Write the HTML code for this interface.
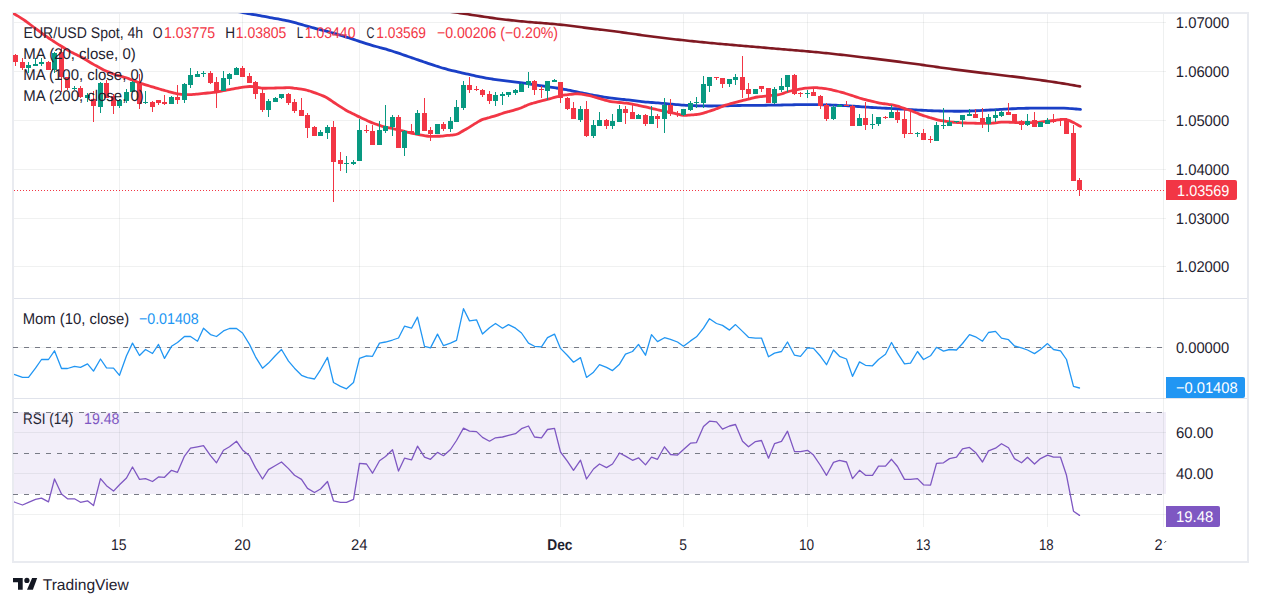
<!DOCTYPE html><html><head><meta charset="utf-8"><style>html,body{margin:0;padding:0;background:#fff;width:1261px;height:606px;overflow:hidden}svg{display:block}text{font-family:"Liberation Sans", sans-serif}</style></head><body>
<svg width="1261" height="606" viewBox="0 0 1261 606">
<defs><clipPath id="cp"><rect x="13" y="13" width="1150" height="285"/></clipPath><clipPath id="cm"><rect x="14" y="299" width="1149" height="99"/></clipPath><clipPath id="cr"><rect x="14" y="399" width="1149" height="128"/></clipPath></defs>
<rect x="0" y="0" width="1261" height="606" fill="#fff"/>
<g shape-rendering="crispEdges">
<rect x="14" y="412" width="1152" height="82" fill="#f2eef9"/>
<rect x="14" y="22" width="1152" height="1" fill="#2a3a3a" fill-opacity="0.07"/>
<rect x="14" y="71" width="1152" height="1" fill="#2a3a3a" fill-opacity="0.07"/>
<rect x="14" y="120" width="1152" height="1" fill="#2a3a3a" fill-opacity="0.07"/>
<rect x="14" y="169" width="1152" height="1" fill="#2a3a3a" fill-opacity="0.07"/>
<rect x="14" y="218" width="1152" height="1" fill="#2a3a3a" fill-opacity="0.07"/>
<rect x="14" y="266" width="1152" height="1" fill="#2a3a3a" fill-opacity="0.07"/>
<rect x="14" y="347" width="1149" height="1" fill="#2a3a3a" fill-opacity="0.07"/>
<rect x="14" y="432" width="1152" height="1" fill="#2a3a3a" fill-opacity="0.07"/>
<rect x="14" y="473" width="1152" height="1" fill="#2a3a3a" fill-opacity="0.07"/>
<rect x="14" y="514" width="1152" height="1" fill="#2a3a3a" fill-opacity="0.07"/>
<rect x="119" y="14" width="1" height="513" fill="#2a3a3a" fill-opacity="0.07"/>
<rect x="242" y="14" width="1" height="513" fill="#2a3a3a" fill-opacity="0.07"/>
<rect x="359" y="14" width="1" height="513" fill="#2a3a3a" fill-opacity="0.07"/>
<rect x="560" y="14" width="1" height="513" fill="#2a3a3a" fill-opacity="0.07"/>
<rect x="683" y="14" width="1" height="513" fill="#2a3a3a" fill-opacity="0.07"/>
<rect x="807" y="14" width="1" height="513" fill="#2a3a3a" fill-opacity="0.07"/>
<rect x="923" y="14" width="1" height="513" fill="#2a3a3a" fill-opacity="0.07"/>
<rect x="1047" y="14" width="1" height="513" fill="#2a3a3a" fill-opacity="0.07"/>
<rect x="14" y="298" width="1233" height="1" fill="#e0e3eb"/>
<rect x="14" y="398" width="1233" height="1" fill="#e0e3eb"/>
<rect x="1163" y="14" width="1" height="513" fill="#2a3a3a" fill-opacity="0.08"/>
<rect x="12" y="12" width="1237" height="2" fill="#e9ebf0"/>
<rect x="12" y="561" width="1237" height="2" fill="#e9ebf0"/>
<rect x="12" y="12" width="2" height="551" fill="#e9ebf0"/>
<rect x="1247" y="12" width="2" height="551" fill="#e9ebf0"/>
<rect x="13" y="347" width="5" height="1" fill="#787b86"/><rect x="24" y="347" width="5" height="1" fill="#787b86"/><rect x="35" y="347" width="5" height="1" fill="#787b86"/><rect x="46" y="347" width="5" height="1" fill="#787b86"/><rect x="57" y="347" width="5" height="1" fill="#787b86"/><rect x="68" y="347" width="5" height="1" fill="#787b86"/><rect x="79" y="347" width="5" height="1" fill="#787b86"/><rect x="90" y="347" width="5" height="1" fill="#787b86"/><rect x="101" y="347" width="5" height="1" fill="#787b86"/><rect x="112" y="347" width="5" height="1" fill="#787b86"/><rect x="123" y="347" width="5" height="1" fill="#787b86"/><rect x="134" y="347" width="5" height="1" fill="#787b86"/><rect x="145" y="347" width="5" height="1" fill="#787b86"/><rect x="156" y="347" width="5" height="1" fill="#787b86"/><rect x="167" y="347" width="5" height="1" fill="#787b86"/><rect x="178" y="347" width="5" height="1" fill="#787b86"/><rect x="189" y="347" width="5" height="1" fill="#787b86"/><rect x="200" y="347" width="5" height="1" fill="#787b86"/><rect x="211" y="347" width="5" height="1" fill="#787b86"/><rect x="222" y="347" width="5" height="1" fill="#787b86"/><rect x="233" y="347" width="5" height="1" fill="#787b86"/><rect x="244" y="347" width="5" height="1" fill="#787b86"/><rect x="255" y="347" width="5" height="1" fill="#787b86"/><rect x="266" y="347" width="5" height="1" fill="#787b86"/><rect x="277" y="347" width="5" height="1" fill="#787b86"/><rect x="288" y="347" width="5" height="1" fill="#787b86"/><rect x="299" y="347" width="5" height="1" fill="#787b86"/><rect x="310" y="347" width="5" height="1" fill="#787b86"/><rect x="321" y="347" width="5" height="1" fill="#787b86"/><rect x="332" y="347" width="5" height="1" fill="#787b86"/><rect x="343" y="347" width="5" height="1" fill="#787b86"/><rect x="354" y="347" width="5" height="1" fill="#787b86"/><rect x="365" y="347" width="5" height="1" fill="#787b86"/><rect x="376" y="347" width="5" height="1" fill="#787b86"/><rect x="387" y="347" width="5" height="1" fill="#787b86"/><rect x="398" y="347" width="5" height="1" fill="#787b86"/><rect x="409" y="347" width="5" height="1" fill="#787b86"/><rect x="420" y="347" width="5" height="1" fill="#787b86"/><rect x="431" y="347" width="5" height="1" fill="#787b86"/><rect x="442" y="347" width="5" height="1" fill="#787b86"/><rect x="453" y="347" width="5" height="1" fill="#787b86"/><rect x="464" y="347" width="5" height="1" fill="#787b86"/><rect x="475" y="347" width="5" height="1" fill="#787b86"/><rect x="486" y="347" width="5" height="1" fill="#787b86"/><rect x="497" y="347" width="5" height="1" fill="#787b86"/><rect x="508" y="347" width="5" height="1" fill="#787b86"/><rect x="519" y="347" width="5" height="1" fill="#787b86"/><rect x="530" y="347" width="5" height="1" fill="#787b86"/><rect x="541" y="347" width="5" height="1" fill="#787b86"/><rect x="552" y="347" width="5" height="1" fill="#787b86"/><rect x="563" y="347" width="5" height="1" fill="#787b86"/><rect x="574" y="347" width="5" height="1" fill="#787b86"/><rect x="585" y="347" width="5" height="1" fill="#787b86"/><rect x="596" y="347" width="5" height="1" fill="#787b86"/><rect x="607" y="347" width="5" height="1" fill="#787b86"/><rect x="618" y="347" width="5" height="1" fill="#787b86"/><rect x="629" y="347" width="5" height="1" fill="#787b86"/><rect x="640" y="347" width="5" height="1" fill="#787b86"/><rect x="651" y="347" width="5" height="1" fill="#787b86"/><rect x="662" y="347" width="5" height="1" fill="#787b86"/><rect x="673" y="347" width="5" height="1" fill="#787b86"/><rect x="684" y="347" width="5" height="1" fill="#787b86"/><rect x="695" y="347" width="5" height="1" fill="#787b86"/><rect x="706" y="347" width="5" height="1" fill="#787b86"/><rect x="717" y="347" width="5" height="1" fill="#787b86"/><rect x="728" y="347" width="5" height="1" fill="#787b86"/><rect x="739" y="347" width="5" height="1" fill="#787b86"/><rect x="750" y="347" width="5" height="1" fill="#787b86"/><rect x="761" y="347" width="5" height="1" fill="#787b86"/><rect x="772" y="347" width="5" height="1" fill="#787b86"/><rect x="783" y="347" width="5" height="1" fill="#787b86"/><rect x="794" y="347" width="5" height="1" fill="#787b86"/><rect x="805" y="347" width="5" height="1" fill="#787b86"/><rect x="816" y="347" width="5" height="1" fill="#787b86"/><rect x="827" y="347" width="5" height="1" fill="#787b86"/><rect x="838" y="347" width="5" height="1" fill="#787b86"/><rect x="849" y="347" width="5" height="1" fill="#787b86"/><rect x="860" y="347" width="5" height="1" fill="#787b86"/><rect x="871" y="347" width="5" height="1" fill="#787b86"/><rect x="882" y="347" width="5" height="1" fill="#787b86"/><rect x="893" y="347" width="5" height="1" fill="#787b86"/><rect x="904" y="347" width="5" height="1" fill="#787b86"/><rect x="915" y="347" width="5" height="1" fill="#787b86"/><rect x="926" y="347" width="5" height="1" fill="#787b86"/><rect x="937" y="347" width="5" height="1" fill="#787b86"/><rect x="948" y="347" width="5" height="1" fill="#787b86"/><rect x="959" y="347" width="5" height="1" fill="#787b86"/><rect x="970" y="347" width="5" height="1" fill="#787b86"/><rect x="981" y="347" width="5" height="1" fill="#787b86"/><rect x="992" y="347" width="5" height="1" fill="#787b86"/><rect x="1003" y="347" width="5" height="1" fill="#787b86"/><rect x="1014" y="347" width="5" height="1" fill="#787b86"/><rect x="1025" y="347" width="5" height="1" fill="#787b86"/><rect x="1036" y="347" width="5" height="1" fill="#787b86"/><rect x="1047" y="347" width="5" height="1" fill="#787b86"/><rect x="1058" y="347" width="5" height="1" fill="#787b86"/><rect x="1069" y="347" width="5" height="1" fill="#787b86"/><rect x="1080" y="347" width="5" height="1" fill="#787b86"/><rect x="1091" y="347" width="5" height="1" fill="#787b86"/><rect x="1102" y="347" width="5" height="1" fill="#787b86"/><rect x="1113" y="347" width="5" height="1" fill="#787b86"/><rect x="1124" y="347" width="5" height="1" fill="#787b86"/><rect x="1135" y="347" width="5" height="1" fill="#787b86"/><rect x="1146" y="347" width="5" height="1" fill="#787b86"/><rect x="1157" y="347" width="5" height="1" fill="#787b86"/>
<rect x="13" y="412" width="5" height="1" fill="#787b86"/><rect x="24" y="412" width="5" height="1" fill="#787b86"/><rect x="35" y="412" width="5" height="1" fill="#787b86"/><rect x="46" y="412" width="5" height="1" fill="#787b86"/><rect x="57" y="412" width="5" height="1" fill="#787b86"/><rect x="68" y="412" width="5" height="1" fill="#787b86"/><rect x="79" y="412" width="5" height="1" fill="#787b86"/><rect x="90" y="412" width="5" height="1" fill="#787b86"/><rect x="101" y="412" width="5" height="1" fill="#787b86"/><rect x="112" y="412" width="5" height="1" fill="#787b86"/><rect x="123" y="412" width="5" height="1" fill="#787b86"/><rect x="134" y="412" width="5" height="1" fill="#787b86"/><rect x="145" y="412" width="5" height="1" fill="#787b86"/><rect x="156" y="412" width="5" height="1" fill="#787b86"/><rect x="167" y="412" width="5" height="1" fill="#787b86"/><rect x="178" y="412" width="5" height="1" fill="#787b86"/><rect x="189" y="412" width="5" height="1" fill="#787b86"/><rect x="200" y="412" width="5" height="1" fill="#787b86"/><rect x="211" y="412" width="5" height="1" fill="#787b86"/><rect x="222" y="412" width="5" height="1" fill="#787b86"/><rect x="233" y="412" width="5" height="1" fill="#787b86"/><rect x="244" y="412" width="5" height="1" fill="#787b86"/><rect x="255" y="412" width="5" height="1" fill="#787b86"/><rect x="266" y="412" width="5" height="1" fill="#787b86"/><rect x="277" y="412" width="5" height="1" fill="#787b86"/><rect x="288" y="412" width="5" height="1" fill="#787b86"/><rect x="299" y="412" width="5" height="1" fill="#787b86"/><rect x="310" y="412" width="5" height="1" fill="#787b86"/><rect x="321" y="412" width="5" height="1" fill="#787b86"/><rect x="332" y="412" width="5" height="1" fill="#787b86"/><rect x="343" y="412" width="5" height="1" fill="#787b86"/><rect x="354" y="412" width="5" height="1" fill="#787b86"/><rect x="365" y="412" width="5" height="1" fill="#787b86"/><rect x="376" y="412" width="5" height="1" fill="#787b86"/><rect x="387" y="412" width="5" height="1" fill="#787b86"/><rect x="398" y="412" width="5" height="1" fill="#787b86"/><rect x="409" y="412" width="5" height="1" fill="#787b86"/><rect x="420" y="412" width="5" height="1" fill="#787b86"/><rect x="431" y="412" width="5" height="1" fill="#787b86"/><rect x="442" y="412" width="5" height="1" fill="#787b86"/><rect x="453" y="412" width="5" height="1" fill="#787b86"/><rect x="464" y="412" width="5" height="1" fill="#787b86"/><rect x="475" y="412" width="5" height="1" fill="#787b86"/><rect x="486" y="412" width="5" height="1" fill="#787b86"/><rect x="497" y="412" width="5" height="1" fill="#787b86"/><rect x="508" y="412" width="5" height="1" fill="#787b86"/><rect x="519" y="412" width="5" height="1" fill="#787b86"/><rect x="530" y="412" width="5" height="1" fill="#787b86"/><rect x="541" y="412" width="5" height="1" fill="#787b86"/><rect x="552" y="412" width="5" height="1" fill="#787b86"/><rect x="563" y="412" width="5" height="1" fill="#787b86"/><rect x="574" y="412" width="5" height="1" fill="#787b86"/><rect x="585" y="412" width="5" height="1" fill="#787b86"/><rect x="596" y="412" width="5" height="1" fill="#787b86"/><rect x="607" y="412" width="5" height="1" fill="#787b86"/><rect x="618" y="412" width="5" height="1" fill="#787b86"/><rect x="629" y="412" width="5" height="1" fill="#787b86"/><rect x="640" y="412" width="5" height="1" fill="#787b86"/><rect x="651" y="412" width="5" height="1" fill="#787b86"/><rect x="662" y="412" width="5" height="1" fill="#787b86"/><rect x="673" y="412" width="5" height="1" fill="#787b86"/><rect x="684" y="412" width="5" height="1" fill="#787b86"/><rect x="695" y="412" width="5" height="1" fill="#787b86"/><rect x="706" y="412" width="5" height="1" fill="#787b86"/><rect x="717" y="412" width="5" height="1" fill="#787b86"/><rect x="728" y="412" width="5" height="1" fill="#787b86"/><rect x="739" y="412" width="5" height="1" fill="#787b86"/><rect x="750" y="412" width="5" height="1" fill="#787b86"/><rect x="761" y="412" width="5" height="1" fill="#787b86"/><rect x="772" y="412" width="5" height="1" fill="#787b86"/><rect x="783" y="412" width="5" height="1" fill="#787b86"/><rect x="794" y="412" width="5" height="1" fill="#787b86"/><rect x="805" y="412" width="5" height="1" fill="#787b86"/><rect x="816" y="412" width="5" height="1" fill="#787b86"/><rect x="827" y="412" width="5" height="1" fill="#787b86"/><rect x="838" y="412" width="5" height="1" fill="#787b86"/><rect x="849" y="412" width="5" height="1" fill="#787b86"/><rect x="860" y="412" width="5" height="1" fill="#787b86"/><rect x="871" y="412" width="5" height="1" fill="#787b86"/><rect x="882" y="412" width="5" height="1" fill="#787b86"/><rect x="893" y="412" width="5" height="1" fill="#787b86"/><rect x="904" y="412" width="5" height="1" fill="#787b86"/><rect x="915" y="412" width="5" height="1" fill="#787b86"/><rect x="926" y="412" width="5" height="1" fill="#787b86"/><rect x="937" y="412" width="5" height="1" fill="#787b86"/><rect x="948" y="412" width="5" height="1" fill="#787b86"/><rect x="959" y="412" width="5" height="1" fill="#787b86"/><rect x="970" y="412" width="5" height="1" fill="#787b86"/><rect x="981" y="412" width="5" height="1" fill="#787b86"/><rect x="992" y="412" width="5" height="1" fill="#787b86"/><rect x="1003" y="412" width="5" height="1" fill="#787b86"/><rect x="1014" y="412" width="5" height="1" fill="#787b86"/><rect x="1025" y="412" width="5" height="1" fill="#787b86"/><rect x="1036" y="412" width="5" height="1" fill="#787b86"/><rect x="1047" y="412" width="5" height="1" fill="#787b86"/><rect x="1058" y="412" width="5" height="1" fill="#787b86"/><rect x="1069" y="412" width="5" height="1" fill="#787b86"/><rect x="1080" y="412" width="5" height="1" fill="#787b86"/><rect x="1091" y="412" width="5" height="1" fill="#787b86"/><rect x="1102" y="412" width="5" height="1" fill="#787b86"/><rect x="1113" y="412" width="5" height="1" fill="#787b86"/><rect x="1124" y="412" width="5" height="1" fill="#787b86"/><rect x="1135" y="412" width="5" height="1" fill="#787b86"/><rect x="1146" y="412" width="5" height="1" fill="#787b86"/><rect x="1157" y="412" width="5" height="1" fill="#787b86"/>
<rect x="13" y="453" width="5" height="1" fill="#787b86"/><rect x="24" y="453" width="5" height="1" fill="#787b86"/><rect x="35" y="453" width="5" height="1" fill="#787b86"/><rect x="46" y="453" width="5" height="1" fill="#787b86"/><rect x="57" y="453" width="5" height="1" fill="#787b86"/><rect x="68" y="453" width="5" height="1" fill="#787b86"/><rect x="79" y="453" width="5" height="1" fill="#787b86"/><rect x="90" y="453" width="5" height="1" fill="#787b86"/><rect x="101" y="453" width="5" height="1" fill="#787b86"/><rect x="112" y="453" width="5" height="1" fill="#787b86"/><rect x="123" y="453" width="5" height="1" fill="#787b86"/><rect x="134" y="453" width="5" height="1" fill="#787b86"/><rect x="145" y="453" width="5" height="1" fill="#787b86"/><rect x="156" y="453" width="5" height="1" fill="#787b86"/><rect x="167" y="453" width="5" height="1" fill="#787b86"/><rect x="178" y="453" width="5" height="1" fill="#787b86"/><rect x="189" y="453" width="5" height="1" fill="#787b86"/><rect x="200" y="453" width="5" height="1" fill="#787b86"/><rect x="211" y="453" width="5" height="1" fill="#787b86"/><rect x="222" y="453" width="5" height="1" fill="#787b86"/><rect x="233" y="453" width="5" height="1" fill="#787b86"/><rect x="244" y="453" width="5" height="1" fill="#787b86"/><rect x="255" y="453" width="5" height="1" fill="#787b86"/><rect x="266" y="453" width="5" height="1" fill="#787b86"/><rect x="277" y="453" width="5" height="1" fill="#787b86"/><rect x="288" y="453" width="5" height="1" fill="#787b86"/><rect x="299" y="453" width="5" height="1" fill="#787b86"/><rect x="310" y="453" width="5" height="1" fill="#787b86"/><rect x="321" y="453" width="5" height="1" fill="#787b86"/><rect x="332" y="453" width="5" height="1" fill="#787b86"/><rect x="343" y="453" width="5" height="1" fill="#787b86"/><rect x="354" y="453" width="5" height="1" fill="#787b86"/><rect x="365" y="453" width="5" height="1" fill="#787b86"/><rect x="376" y="453" width="5" height="1" fill="#787b86"/><rect x="387" y="453" width="5" height="1" fill="#787b86"/><rect x="398" y="453" width="5" height="1" fill="#787b86"/><rect x="409" y="453" width="5" height="1" fill="#787b86"/><rect x="420" y="453" width="5" height="1" fill="#787b86"/><rect x="431" y="453" width="5" height="1" fill="#787b86"/><rect x="442" y="453" width="5" height="1" fill="#787b86"/><rect x="453" y="453" width="5" height="1" fill="#787b86"/><rect x="464" y="453" width="5" height="1" fill="#787b86"/><rect x="475" y="453" width="5" height="1" fill="#787b86"/><rect x="486" y="453" width="5" height="1" fill="#787b86"/><rect x="497" y="453" width="5" height="1" fill="#787b86"/><rect x="508" y="453" width="5" height="1" fill="#787b86"/><rect x="519" y="453" width="5" height="1" fill="#787b86"/><rect x="530" y="453" width="5" height="1" fill="#787b86"/><rect x="541" y="453" width="5" height="1" fill="#787b86"/><rect x="552" y="453" width="5" height="1" fill="#787b86"/><rect x="563" y="453" width="5" height="1" fill="#787b86"/><rect x="574" y="453" width="5" height="1" fill="#787b86"/><rect x="585" y="453" width="5" height="1" fill="#787b86"/><rect x="596" y="453" width="5" height="1" fill="#787b86"/><rect x="607" y="453" width="5" height="1" fill="#787b86"/><rect x="618" y="453" width="5" height="1" fill="#787b86"/><rect x="629" y="453" width="5" height="1" fill="#787b86"/><rect x="640" y="453" width="5" height="1" fill="#787b86"/><rect x="651" y="453" width="5" height="1" fill="#787b86"/><rect x="662" y="453" width="5" height="1" fill="#787b86"/><rect x="673" y="453" width="5" height="1" fill="#787b86"/><rect x="684" y="453" width="5" height="1" fill="#787b86"/><rect x="695" y="453" width="5" height="1" fill="#787b86"/><rect x="706" y="453" width="5" height="1" fill="#787b86"/><rect x="717" y="453" width="5" height="1" fill="#787b86"/><rect x="728" y="453" width="5" height="1" fill="#787b86"/><rect x="739" y="453" width="5" height="1" fill="#787b86"/><rect x="750" y="453" width="5" height="1" fill="#787b86"/><rect x="761" y="453" width="5" height="1" fill="#787b86"/><rect x="772" y="453" width="5" height="1" fill="#787b86"/><rect x="783" y="453" width="5" height="1" fill="#787b86"/><rect x="794" y="453" width="5" height="1" fill="#787b86"/><rect x="805" y="453" width="5" height="1" fill="#787b86"/><rect x="816" y="453" width="5" height="1" fill="#787b86"/><rect x="827" y="453" width="5" height="1" fill="#787b86"/><rect x="838" y="453" width="5" height="1" fill="#787b86"/><rect x="849" y="453" width="5" height="1" fill="#787b86"/><rect x="860" y="453" width="5" height="1" fill="#787b86"/><rect x="871" y="453" width="5" height="1" fill="#787b86"/><rect x="882" y="453" width="5" height="1" fill="#787b86"/><rect x="893" y="453" width="5" height="1" fill="#787b86"/><rect x="904" y="453" width="5" height="1" fill="#787b86"/><rect x="915" y="453" width="5" height="1" fill="#787b86"/><rect x="926" y="453" width="5" height="1" fill="#787b86"/><rect x="937" y="453" width="5" height="1" fill="#787b86"/><rect x="948" y="453" width="5" height="1" fill="#787b86"/><rect x="959" y="453" width="5" height="1" fill="#787b86"/><rect x="970" y="453" width="5" height="1" fill="#787b86"/><rect x="981" y="453" width="5" height="1" fill="#787b86"/><rect x="992" y="453" width="5" height="1" fill="#787b86"/><rect x="1003" y="453" width="5" height="1" fill="#787b86"/><rect x="1014" y="453" width="5" height="1" fill="#787b86"/><rect x="1025" y="453" width="5" height="1" fill="#787b86"/><rect x="1036" y="453" width="5" height="1" fill="#787b86"/><rect x="1047" y="453" width="5" height="1" fill="#787b86"/><rect x="1058" y="453" width="5" height="1" fill="#787b86"/><rect x="1069" y="453" width="5" height="1" fill="#787b86"/><rect x="1080" y="453" width="5" height="1" fill="#787b86"/><rect x="1091" y="453" width="5" height="1" fill="#787b86"/><rect x="1102" y="453" width="5" height="1" fill="#787b86"/><rect x="1113" y="453" width="5" height="1" fill="#787b86"/><rect x="1124" y="453" width="5" height="1" fill="#787b86"/><rect x="1135" y="453" width="5" height="1" fill="#787b86"/><rect x="1146" y="453" width="5" height="1" fill="#787b86"/><rect x="1157" y="453" width="5" height="1" fill="#787b86"/>
<rect x="13" y="494" width="5" height="1" fill="#787b86"/><rect x="24" y="494" width="5" height="1" fill="#787b86"/><rect x="35" y="494" width="5" height="1" fill="#787b86"/><rect x="46" y="494" width="5" height="1" fill="#787b86"/><rect x="57" y="494" width="5" height="1" fill="#787b86"/><rect x="68" y="494" width="5" height="1" fill="#787b86"/><rect x="79" y="494" width="5" height="1" fill="#787b86"/><rect x="90" y="494" width="5" height="1" fill="#787b86"/><rect x="101" y="494" width="5" height="1" fill="#787b86"/><rect x="112" y="494" width="5" height="1" fill="#787b86"/><rect x="123" y="494" width="5" height="1" fill="#787b86"/><rect x="134" y="494" width="5" height="1" fill="#787b86"/><rect x="145" y="494" width="5" height="1" fill="#787b86"/><rect x="156" y="494" width="5" height="1" fill="#787b86"/><rect x="167" y="494" width="5" height="1" fill="#787b86"/><rect x="178" y="494" width="5" height="1" fill="#787b86"/><rect x="189" y="494" width="5" height="1" fill="#787b86"/><rect x="200" y="494" width="5" height="1" fill="#787b86"/><rect x="211" y="494" width="5" height="1" fill="#787b86"/><rect x="222" y="494" width="5" height="1" fill="#787b86"/><rect x="233" y="494" width="5" height="1" fill="#787b86"/><rect x="244" y="494" width="5" height="1" fill="#787b86"/><rect x="255" y="494" width="5" height="1" fill="#787b86"/><rect x="266" y="494" width="5" height="1" fill="#787b86"/><rect x="277" y="494" width="5" height="1" fill="#787b86"/><rect x="288" y="494" width="5" height="1" fill="#787b86"/><rect x="299" y="494" width="5" height="1" fill="#787b86"/><rect x="310" y="494" width="5" height="1" fill="#787b86"/><rect x="321" y="494" width="5" height="1" fill="#787b86"/><rect x="332" y="494" width="5" height="1" fill="#787b86"/><rect x="343" y="494" width="5" height="1" fill="#787b86"/><rect x="354" y="494" width="5" height="1" fill="#787b86"/><rect x="365" y="494" width="5" height="1" fill="#787b86"/><rect x="376" y="494" width="5" height="1" fill="#787b86"/><rect x="387" y="494" width="5" height="1" fill="#787b86"/><rect x="398" y="494" width="5" height="1" fill="#787b86"/><rect x="409" y="494" width="5" height="1" fill="#787b86"/><rect x="420" y="494" width="5" height="1" fill="#787b86"/><rect x="431" y="494" width="5" height="1" fill="#787b86"/><rect x="442" y="494" width="5" height="1" fill="#787b86"/><rect x="453" y="494" width="5" height="1" fill="#787b86"/><rect x="464" y="494" width="5" height="1" fill="#787b86"/><rect x="475" y="494" width="5" height="1" fill="#787b86"/><rect x="486" y="494" width="5" height="1" fill="#787b86"/><rect x="497" y="494" width="5" height="1" fill="#787b86"/><rect x="508" y="494" width="5" height="1" fill="#787b86"/><rect x="519" y="494" width="5" height="1" fill="#787b86"/><rect x="530" y="494" width="5" height="1" fill="#787b86"/><rect x="541" y="494" width="5" height="1" fill="#787b86"/><rect x="552" y="494" width="5" height="1" fill="#787b86"/><rect x="563" y="494" width="5" height="1" fill="#787b86"/><rect x="574" y="494" width="5" height="1" fill="#787b86"/><rect x="585" y="494" width="5" height="1" fill="#787b86"/><rect x="596" y="494" width="5" height="1" fill="#787b86"/><rect x="607" y="494" width="5" height="1" fill="#787b86"/><rect x="618" y="494" width="5" height="1" fill="#787b86"/><rect x="629" y="494" width="5" height="1" fill="#787b86"/><rect x="640" y="494" width="5" height="1" fill="#787b86"/><rect x="651" y="494" width="5" height="1" fill="#787b86"/><rect x="662" y="494" width="5" height="1" fill="#787b86"/><rect x="673" y="494" width="5" height="1" fill="#787b86"/><rect x="684" y="494" width="5" height="1" fill="#787b86"/><rect x="695" y="494" width="5" height="1" fill="#787b86"/><rect x="706" y="494" width="5" height="1" fill="#787b86"/><rect x="717" y="494" width="5" height="1" fill="#787b86"/><rect x="728" y="494" width="5" height="1" fill="#787b86"/><rect x="739" y="494" width="5" height="1" fill="#787b86"/><rect x="750" y="494" width="5" height="1" fill="#787b86"/><rect x="761" y="494" width="5" height="1" fill="#787b86"/><rect x="772" y="494" width="5" height="1" fill="#787b86"/><rect x="783" y="494" width="5" height="1" fill="#787b86"/><rect x="794" y="494" width="5" height="1" fill="#787b86"/><rect x="805" y="494" width="5" height="1" fill="#787b86"/><rect x="816" y="494" width="5" height="1" fill="#787b86"/><rect x="827" y="494" width="5" height="1" fill="#787b86"/><rect x="838" y="494" width="5" height="1" fill="#787b86"/><rect x="849" y="494" width="5" height="1" fill="#787b86"/><rect x="860" y="494" width="5" height="1" fill="#787b86"/><rect x="871" y="494" width="5" height="1" fill="#787b86"/><rect x="882" y="494" width="5" height="1" fill="#787b86"/><rect x="893" y="494" width="5" height="1" fill="#787b86"/><rect x="904" y="494" width="5" height="1" fill="#787b86"/><rect x="915" y="494" width="5" height="1" fill="#787b86"/><rect x="926" y="494" width="5" height="1" fill="#787b86"/><rect x="937" y="494" width="5" height="1" fill="#787b86"/><rect x="948" y="494" width="5" height="1" fill="#787b86"/><rect x="959" y="494" width="5" height="1" fill="#787b86"/><rect x="970" y="494" width="5" height="1" fill="#787b86"/><rect x="981" y="494" width="5" height="1" fill="#787b86"/><rect x="992" y="494" width="5" height="1" fill="#787b86"/><rect x="1003" y="494" width="5" height="1" fill="#787b86"/><rect x="1014" y="494" width="5" height="1" fill="#787b86"/><rect x="1025" y="494" width="5" height="1" fill="#787b86"/><rect x="1036" y="494" width="5" height="1" fill="#787b86"/><rect x="1047" y="494" width="5" height="1" fill="#787b86"/><rect x="1058" y="494" width="5" height="1" fill="#787b86"/><rect x="1069" y="494" width="5" height="1" fill="#787b86"/><rect x="1080" y="494" width="5" height="1" fill="#787b86"/><rect x="1091" y="494" width="5" height="1" fill="#787b86"/><rect x="1102" y="494" width="5" height="1" fill="#787b86"/><rect x="1113" y="494" width="5" height="1" fill="#787b86"/><rect x="1124" y="494" width="5" height="1" fill="#787b86"/><rect x="1135" y="494" width="5" height="1" fill="#787b86"/><rect x="1146" y="494" width="5" height="1" fill="#787b86"/><rect x="1157" y="494" width="5" height="1" fill="#787b86"/>
</g>
<g clip-path="url(#cp)">
<path d="M420.00,7.50 C420.67,7.59 422.67,7.87 424.00,8.05 C425.33,8.23 426.67,8.42 428.00,8.60 C429.33,8.78 430.67,8.97 432.00,9.15 C433.33,9.33 434.67,9.52 436.00,9.70 C437.33,9.89 438.67,10.07 440.00,10.25 C441.33,10.44 442.67,10.62 444.00,10.81 C445.33,11.00 446.67,11.18 448.00,11.37 C449.33,11.56 450.67,11.75 452.00,11.94 C453.33,12.13 454.67,12.32 456.00,12.51 C457.33,12.71 458.67,12.90 460.00,13.10 C461.33,13.30 462.67,13.50 464.00,13.70 C465.33,13.90 466.67,14.10 468.00,14.30 C469.33,14.51 470.67,14.71 472.00,14.92 C473.33,15.12 474.67,15.33 476.00,15.53 C477.33,15.74 478.67,15.94 480.00,16.14 C481.33,16.35 482.67,16.55 484.00,16.74 C485.33,16.94 486.67,17.14 488.00,17.33 C489.33,17.52 490.67,17.71 492.00,17.89 C493.33,18.08 494.67,18.26 496.00,18.43 C497.33,18.61 498.67,18.78 500.00,18.95 C501.33,19.11 502.67,19.28 504.00,19.44 C505.33,19.60 506.67,19.75 508.00,19.91 C509.33,20.06 510.67,20.21 512.00,20.36 C513.33,20.50 514.67,20.65 516.00,20.79 C517.33,20.93 518.67,21.06 520.00,21.19 C521.33,21.33 522.67,21.45 524.00,21.58 C525.33,21.70 526.67,21.82 528.00,21.94 C529.33,22.06 530.67,22.17 532.00,22.28 C533.33,22.39 534.67,22.49 536.00,22.60 C537.33,22.70 538.67,22.81 540.00,22.91 C541.33,23.01 542.67,23.11 544.00,23.22 C545.33,23.32 546.67,23.43 548.00,23.54 C549.33,23.65 550.67,23.76 552.00,23.87 C553.33,23.99 554.67,24.11 556.00,24.24 C557.33,24.36 558.67,24.50 560.00,24.64 C561.33,24.78 562.67,24.92 564.00,25.07 C565.33,25.22 566.67,25.38 568.00,25.54 C569.33,25.70 570.67,25.87 572.00,26.04 C573.33,26.20 574.67,26.38 576.00,26.55 C577.33,26.72 578.67,26.90 580.00,27.07 C581.33,27.24 582.67,27.42 584.00,27.59 C585.33,27.76 586.67,27.94 588.00,28.11 C589.33,28.28 590.67,28.44 592.00,28.61 C593.33,28.78 594.67,28.94 596.00,29.10 C597.33,29.27 598.67,29.43 600.00,29.59 C601.33,29.75 602.67,29.91 604.00,30.07 C605.33,30.23 606.67,30.39 608.00,30.55 C609.33,30.72 610.67,30.88 612.00,31.05 C613.33,31.21 614.67,31.38 616.00,31.55 C617.33,31.72 618.67,31.90 620.00,32.07 C621.33,32.25 622.67,32.43 624.00,32.62 C625.33,32.80 626.67,32.99 628.00,33.17 C629.33,33.36 630.67,33.55 632.00,33.74 C633.33,33.94 634.67,34.13 636.00,34.32 C637.33,34.51 638.67,34.71 640.00,34.90 C641.33,35.09 642.67,35.28 644.00,35.47 C645.33,35.65 646.67,35.84 648.00,36.02 C649.33,36.20 650.67,36.38 652.00,36.56 C653.33,36.74 654.67,36.91 656.00,37.08 C657.33,37.25 658.67,37.41 660.00,37.58 C661.33,37.74 662.67,37.90 664.00,38.06 C665.33,38.22 666.67,38.37 668.00,38.53 C669.33,38.68 670.67,38.83 672.00,38.98 C673.33,39.13 674.67,39.28 676.00,39.43 C677.33,39.58 678.67,39.73 680.00,39.87 C681.33,40.02 682.67,40.16 684.00,40.30 C685.33,40.44 686.67,40.59 688.00,40.73 C689.33,40.87 690.67,41.00 692.00,41.14 C693.33,41.28 694.67,41.42 696.00,41.55 C697.33,41.69 698.67,41.82 700.00,41.96 C701.33,42.09 702.67,42.22 704.00,42.35 C705.33,42.48 706.67,42.61 708.00,42.74 C709.33,42.87 710.67,43.00 712.00,43.13 C713.33,43.25 714.67,43.38 716.00,43.50 C717.33,43.62 718.67,43.75 720.00,43.87 C721.33,43.99 722.67,44.11 724.00,44.22 C725.33,44.34 726.67,44.46 728.00,44.58 C729.33,44.69 730.67,44.81 732.00,44.92 C733.33,45.04 734.67,45.15 736.00,45.27 C737.33,45.38 738.67,45.50 740.00,45.61 C741.33,45.73 742.67,45.84 744.00,45.95 C745.33,46.07 746.67,46.18 748.00,46.29 C749.33,46.41 750.67,46.52 752.00,46.63 C753.33,46.75 754.67,46.86 756.00,46.98 C757.33,47.09 758.67,47.20 760.00,47.32 C761.33,47.43 762.67,47.54 764.00,47.66 C765.33,47.77 766.67,47.88 768.00,48.00 C769.33,48.11 770.67,48.22 772.00,48.34 C773.33,48.45 774.67,48.56 776.00,48.68 C777.33,48.79 778.67,48.90 780.00,49.02 C781.33,49.13 782.67,49.24 784.00,49.35 C785.33,49.47 786.67,49.58 788.00,49.69 C789.33,49.81 790.67,49.92 792.00,50.03 C793.33,50.15 794.67,50.26 796.00,50.37 C797.33,50.49 798.67,50.60 800.00,50.71 C801.33,50.83 802.67,50.94 804.00,51.06 C805.33,51.18 806.67,51.29 808.00,51.41 C809.33,51.53 810.67,51.65 812.00,51.77 C813.33,51.89 814.67,52.01 816.00,52.14 C817.33,52.27 818.67,52.39 820.00,52.52 C821.33,52.65 822.67,52.79 824.00,52.92 C825.33,53.05 826.67,53.19 828.00,53.33 C829.33,53.47 830.67,53.61 832.00,53.75 C833.33,53.90 834.67,54.04 836.00,54.19 C837.33,54.33 838.67,54.48 840.00,54.63 C841.33,54.77 842.67,54.92 844.00,55.08 C845.33,55.23 846.67,55.38 848.00,55.53 C849.33,55.68 850.67,55.84 852.00,56.00 C853.33,56.15 854.67,56.31 856.00,56.47 C857.33,56.62 858.67,56.78 860.00,56.94 C861.33,57.10 862.67,57.26 864.00,57.43 C865.33,57.59 866.67,57.75 868.00,57.91 C869.33,58.08 870.67,58.24 872.00,58.40 C873.33,58.57 874.67,58.73 876.00,58.90 C877.33,59.06 878.67,59.23 880.00,59.39 C881.33,59.56 882.67,59.72 884.00,59.89 C885.33,60.05 886.67,60.22 888.00,60.39 C889.33,60.55 890.67,60.72 892.00,60.89 C893.33,61.06 894.67,61.22 896.00,61.39 C897.33,61.56 898.67,61.73 900.00,61.90 C901.33,62.07 902.67,62.24 904.00,62.42 C905.33,62.59 906.67,62.76 908.00,62.94 C909.33,63.12 910.67,63.29 912.00,63.47 C913.33,63.65 914.67,63.83 916.00,64.02 C917.33,64.20 918.67,64.39 920.00,64.57 C921.33,64.76 922.67,64.95 924.00,65.14 C925.33,65.33 926.67,65.52 928.00,65.71 C929.33,65.90 930.67,66.10 932.00,66.29 C933.33,66.48 934.67,66.67 936.00,66.86 C937.33,67.05 938.67,67.24 940.00,67.43 C941.33,67.62 942.67,67.81 944.00,67.99 C945.33,68.18 946.67,68.36 948.00,68.55 C949.33,68.73 950.67,68.91 952.00,69.09 C953.33,69.26 954.67,69.44 956.00,69.61 C957.33,69.79 958.67,69.96 960.00,70.13 C961.33,70.30 962.67,70.47 964.00,70.64 C965.33,70.81 966.67,70.98 968.00,71.15 C969.33,71.31 970.67,71.48 972.00,71.64 C973.33,71.81 974.67,71.97 976.00,72.14 C977.33,72.30 978.67,72.46 980.00,72.62 C981.33,72.78 982.67,72.94 984.00,73.10 C985.33,73.26 986.67,73.42 988.00,73.58 C989.33,73.73 990.67,73.89 992.00,74.05 C993.33,74.20 994.67,74.36 996.00,74.52 C997.33,74.67 998.67,74.83 1000.00,74.98 C1001.33,75.14 1002.67,75.30 1004.00,75.45 C1005.33,75.61 1006.67,75.77 1008.00,75.93 C1009.33,76.09 1010.67,76.25 1012.00,76.41 C1013.33,76.57 1014.67,76.74 1016.00,76.90 C1017.33,77.07 1018.67,77.23 1020.00,77.40 C1021.33,77.57 1022.67,77.74 1024.00,77.91 C1025.33,78.09 1026.67,78.26 1028.00,78.44 C1029.33,78.61 1030.67,78.79 1032.00,78.97 C1033.33,79.15 1034.67,79.33 1036.00,79.51 C1037.33,79.70 1038.67,79.88 1040.00,80.06 C1041.33,80.25 1042.67,80.43 1044.00,80.62 C1045.33,80.81 1046.67,81.00 1048.00,81.19 C1049.33,81.38 1050.67,81.58 1052.00,81.78 C1053.33,81.97 1054.67,82.17 1056.00,82.38 C1057.33,82.58 1058.67,82.79 1060.00,83.00 C1061.33,83.21 1062.67,83.43 1064.00,83.65 C1065.33,83.87 1066.67,84.09 1068.00,84.32 C1069.33,84.54 1070.67,84.77 1072.00,85.00 C1073.33,85.23 1074.67,85.46 1076.00,85.70 C1077.33,85.93 1079.33,86.28 1080.00,86.40" fill="none" stroke="#801922" stroke-width="2.6" stroke-linejoin="round" stroke-linecap="round"/>
<path d="M200.00,4.00 C200.67,4.13 202.67,4.53 204.00,4.80 C205.33,5.07 206.67,5.34 208.00,5.60 C209.33,5.87 210.67,6.14 212.00,6.41 C213.33,6.67 214.67,6.94 216.00,7.21 C217.33,7.47 218.67,7.74 220.00,8.01 C221.33,8.28 222.67,8.54 224.00,8.81 C225.33,9.08 226.67,9.35 228.00,9.61 C229.33,9.88 230.67,10.15 232.00,10.41 C233.33,10.68 234.67,10.94 236.00,11.20 C237.33,11.47 238.67,11.73 240.00,11.99 C241.33,12.24 242.67,12.50 244.00,12.75 C245.33,13.01 246.67,13.26 248.00,13.51 C249.33,13.76 250.67,14.00 252.00,14.25 C253.33,14.50 254.67,14.74 256.00,14.99 C257.33,15.23 258.67,15.47 260.00,15.72 C261.33,15.96 262.67,16.20 264.00,16.44 C265.33,16.69 266.67,16.93 268.00,17.16 C269.33,17.40 270.67,17.64 272.00,17.88 C273.33,18.11 274.67,18.34 276.00,18.58 C277.33,18.82 278.67,19.05 280.00,19.30 C281.33,19.55 282.67,19.80 284.00,20.07 C285.33,20.34 286.67,20.61 288.00,20.92 C289.33,21.22 290.67,21.54 292.00,21.88 C293.33,22.22 294.67,22.58 296.00,22.95 C297.33,23.32 298.67,23.71 300.00,24.09 C301.33,24.47 302.67,24.87 304.00,25.25 C305.33,25.63 306.67,26.01 308.00,26.39 C309.33,26.76 310.67,27.12 312.00,27.48 C313.33,27.84 314.67,28.18 316.00,28.53 C317.33,28.87 318.67,29.21 320.00,29.55 C321.33,29.90 322.67,30.24 324.00,30.59 C325.33,30.94 326.67,31.29 328.00,31.65 C329.33,32.01 330.67,32.38 332.00,32.76 C333.33,33.14 334.67,33.52 336.00,33.92 C337.33,34.31 338.67,34.71 340.00,35.11 C341.33,35.51 342.67,35.92 344.00,36.34 C345.33,36.76 346.67,37.18 348.00,37.61 C349.33,38.04 350.67,38.47 352.00,38.92 C353.33,39.36 354.67,39.81 356.00,40.26 C357.33,40.71 358.67,41.16 360.00,41.61 C361.33,42.05 362.67,42.50 364.00,42.93 C365.33,43.36 366.67,43.79 368.00,44.19 C369.33,44.60 370.67,44.99 372.00,45.37 C373.33,45.75 374.67,46.11 376.00,46.48 C377.33,46.84 378.67,47.19 380.00,47.55 C381.33,47.91 382.67,48.26 384.00,48.64 C385.33,49.01 386.67,49.39 388.00,49.79 C389.33,50.18 390.67,50.60 392.00,51.02 C393.33,51.44 394.67,51.88 396.00,52.33 C397.33,52.77 398.67,53.23 400.00,53.69 C401.33,54.14 402.67,54.61 404.00,55.07 C405.33,55.53 406.67,55.99 408.00,56.46 C409.33,56.92 410.67,57.38 412.00,57.85 C413.33,58.31 414.67,58.77 416.00,59.23 C417.33,59.69 418.67,60.15 420.00,60.61 C421.33,61.07 422.67,61.53 424.00,61.98 C425.33,62.44 426.67,62.89 428.00,63.33 C429.33,63.78 430.67,64.22 432.00,64.66 C433.33,65.10 434.67,65.54 436.00,65.96 C437.33,66.39 438.67,66.82 440.00,67.23 C441.33,67.64 442.67,68.05 444.00,68.43 C445.33,68.82 446.67,69.19 448.00,69.54 C449.33,69.89 450.67,70.23 452.00,70.55 C453.33,70.87 454.67,71.18 456.00,71.48 C457.33,71.79 458.67,72.08 460.00,72.38 C461.33,72.69 462.67,72.99 464.00,73.29 C465.33,73.59 466.67,73.90 468.00,74.21 C469.33,74.51 470.67,74.82 472.00,75.12 C473.33,75.43 474.67,75.73 476.00,76.02 C477.33,76.31 478.67,76.59 480.00,76.86 C481.33,77.13 482.67,77.39 484.00,77.64 C485.33,77.89 486.67,78.13 488.00,78.35 C489.33,78.58 490.67,78.79 492.00,79.00 C493.33,79.20 494.67,79.39 496.00,79.58 C497.33,79.77 498.67,79.94 500.00,80.12 C501.33,80.29 502.67,80.46 504.00,80.62 C505.33,80.79 506.67,80.95 508.00,81.11 C509.33,81.27 510.67,81.43 512.00,81.59 C513.33,81.75 514.67,81.91 516.00,82.07 C517.33,82.23 518.67,82.39 520.00,82.56 C521.33,82.74 522.67,82.91 524.00,83.10 C525.33,83.29 526.67,83.48 528.00,83.68 C529.33,83.89 530.67,84.10 532.00,84.31 C533.33,84.53 534.67,84.75 536.00,84.96 C537.33,85.17 538.67,85.38 540.00,85.59 C541.33,85.79 542.67,85.99 544.00,86.19 C545.33,86.38 546.67,86.57 548.00,86.77 C549.33,86.96 550.67,87.15 552.00,87.35 C553.33,87.55 554.67,87.74 556.00,87.95 C557.33,88.16 558.67,88.37 560.00,88.60 C561.33,88.82 562.67,89.05 564.00,89.29 C565.33,89.53 566.67,89.78 568.00,90.04 C569.33,90.30 570.67,90.56 572.00,90.83 C573.33,91.10 574.67,91.38 576.00,91.66 C577.33,91.94 578.67,92.22 580.00,92.50 C581.33,92.78 582.67,93.06 584.00,93.34 C585.33,93.62 586.67,93.89 588.00,94.16 C589.33,94.42 590.67,94.68 592.00,94.94 C593.33,95.19 594.67,95.43 596.00,95.67 C597.33,95.91 598.67,96.14 600.00,96.37 C601.33,96.59 602.67,96.81 604.00,97.02 C605.33,97.23 606.67,97.44 608.00,97.63 C609.33,97.83 610.67,98.01 612.00,98.19 C613.33,98.36 614.67,98.52 616.00,98.68 C617.33,98.83 618.67,98.96 620.00,99.10 C621.33,99.24 622.67,99.37 624.00,99.51 C625.33,99.65 626.67,99.78 628.00,99.94 C629.33,100.09 630.67,100.25 632.00,100.42 C633.33,100.58 634.67,100.76 636.00,100.93 C637.33,101.09 638.67,101.26 640.00,101.41 C641.33,101.56 642.67,101.70 644.00,101.83 C645.33,101.96 646.67,102.07 648.00,102.18 C649.33,102.29 650.67,102.39 652.00,102.49 C653.33,102.59 654.67,102.69 656.00,102.79 C657.33,102.90 658.67,103.00 660.00,103.11 C661.33,103.23 662.67,103.34 664.00,103.46 C665.33,103.58 666.67,103.71 668.00,103.84 C669.33,103.96 670.67,104.09 672.00,104.21 C673.33,104.33 674.67,104.46 676.00,104.57 C677.33,104.68 678.67,104.79 680.00,104.89 C681.33,104.99 682.67,105.08 684.00,105.16 C685.33,105.25 686.67,105.33 688.00,105.40 C689.33,105.47 690.67,105.54 692.00,105.60 C693.33,105.66 694.67,105.71 696.00,105.76 C697.33,105.80 698.67,105.84 700.00,105.87 C701.33,105.91 702.67,105.93 704.00,105.95 C705.33,105.96 706.67,105.97 708.00,105.98 C709.33,105.98 710.67,105.98 712.00,105.98 C713.33,105.98 714.67,105.97 716.00,105.96 C717.33,105.95 718.67,105.93 720.00,105.91 C721.33,105.89 722.67,105.86 724.00,105.83 C725.33,105.80 726.67,105.77 728.00,105.74 C729.33,105.71 730.67,105.67 732.00,105.64 C733.33,105.61 734.67,105.58 736.00,105.55 C737.33,105.52 738.67,105.50 740.00,105.48 C741.33,105.46 742.67,105.45 744.00,105.43 C745.33,105.42 746.67,105.41 748.00,105.41 C749.33,105.40 750.67,105.39 752.00,105.39 C753.33,105.38 754.67,105.37 756.00,105.36 C757.33,105.35 758.67,105.34 760.00,105.33 C761.33,105.31 762.67,105.29 764.00,105.28 C765.33,105.26 766.67,105.24 768.00,105.22 C769.33,105.20 770.67,105.18 772.00,105.16 C773.33,105.14 774.67,105.12 776.00,105.10 C777.33,105.08 778.67,105.05 780.00,105.03 C781.33,105.01 782.67,104.98 784.00,104.96 C785.33,104.93 786.67,104.90 788.00,104.87 C789.33,104.85 790.67,104.82 792.00,104.79 C793.33,104.76 794.67,104.73 796.00,104.70 C797.33,104.68 798.67,104.65 800.00,104.62 C801.33,104.60 802.67,104.58 804.00,104.57 C805.33,104.55 806.67,104.54 808.00,104.54 C809.33,104.54 810.67,104.55 812.00,104.56 C813.33,104.58 814.67,104.60 816.00,104.63 C817.33,104.65 818.67,104.69 820.00,104.72 C821.33,104.76 822.67,104.80 824.00,104.83 C825.33,104.87 826.67,104.91 828.00,104.96 C829.33,105.00 830.67,105.04 832.00,105.09 C833.33,105.14 834.67,105.18 836.00,105.23 C837.33,105.28 838.67,105.34 840.00,105.39 C841.33,105.45 842.67,105.51 844.00,105.58 C845.33,105.65 846.67,105.72 848.00,105.80 C849.33,105.88 850.67,105.97 852.00,106.06 C853.33,106.15 854.67,106.24 856.00,106.34 C857.33,106.43 858.67,106.53 860.00,106.63 C861.33,106.73 862.67,106.83 864.00,106.92 C865.33,107.02 866.67,107.12 868.00,107.21 C869.33,107.30 870.67,107.39 872.00,107.48 C873.33,107.56 874.67,107.64 876.00,107.72 C877.33,107.80 878.67,107.87 880.00,107.94 C881.33,108.01 882.67,108.08 884.00,108.15 C885.33,108.22 886.67,108.28 888.00,108.35 C889.33,108.42 890.67,108.48 892.00,108.55 C893.33,108.62 894.67,108.69 896.00,108.76 C897.33,108.83 898.67,108.91 900.00,108.98 C901.33,109.06 902.67,109.13 904.00,109.21 C905.33,109.29 906.67,109.37 908.00,109.45 C909.33,109.53 910.67,109.62 912.00,109.70 C913.33,109.78 914.67,109.86 916.00,109.93 C917.33,110.01 918.67,110.09 920.00,110.16 C921.33,110.24 922.67,110.31 924.00,110.38 C925.33,110.44 926.67,110.51 928.00,110.57 C929.33,110.63 930.67,110.69 932.00,110.75 C933.33,110.80 934.67,110.85 936.00,110.89 C937.33,110.94 938.67,110.98 940.00,111.01 C941.33,111.04 942.67,111.07 944.00,111.10 C945.33,111.13 946.67,111.15 948.00,111.17 C949.33,111.19 950.67,111.21 952.00,111.22 C953.33,111.24 954.67,111.25 956.00,111.26 C957.33,111.26 958.67,111.26 960.00,111.25 C961.33,111.24 962.67,111.23 964.00,111.20 C965.33,111.17 966.67,111.13 968.00,111.09 C969.33,111.04 970.67,110.98 972.00,110.93 C973.33,110.87 974.67,110.81 976.00,110.74 C977.33,110.68 978.67,110.62 980.00,110.55 C981.33,110.48 982.67,110.41 984.00,110.34 C985.33,110.27 986.67,110.20 988.00,110.13 C989.33,110.06 990.67,109.98 992.00,109.90 C993.33,109.83 994.67,109.75 996.00,109.67 C997.33,109.59 998.67,109.51 1000.00,109.42 C1001.33,109.34 1002.67,109.26 1004.00,109.18 C1005.33,109.10 1006.67,109.02 1008.00,108.95 C1009.33,108.87 1010.67,108.80 1012.00,108.73 C1013.33,108.66 1014.67,108.59 1016.00,108.54 C1017.33,108.48 1018.67,108.43 1020.00,108.39 C1021.33,108.35 1022.67,108.31 1024.00,108.29 C1025.33,108.26 1026.67,108.25 1028.00,108.23 C1029.33,108.22 1030.67,108.22 1032.00,108.21 C1033.33,108.20 1034.67,108.20 1036.00,108.20 C1037.33,108.20 1038.67,108.20 1040.00,108.19 C1041.33,108.19 1042.67,108.19 1044.00,108.18 C1045.33,108.17 1046.67,108.17 1048.00,108.16 C1049.33,108.15 1050.67,108.13 1052.00,108.12 C1053.33,108.11 1054.67,108.09 1056.00,108.09 C1057.33,108.08 1058.67,108.07 1060.00,108.08 C1061.33,108.09 1062.67,108.10 1064.00,108.14 C1065.33,108.18 1066.67,108.23 1068.00,108.31 C1069.33,108.39 1070.67,108.49 1072.00,108.60 C1073.33,108.71 1074.58,108.85 1076.00,108.99 C1077.42,109.13 1079.75,109.36 1080.50,109.44" fill="none" stroke="#1a3fc6" stroke-width="2.8" stroke-linejoin="round" stroke-linecap="round"/>
<path d="M13.50,13.50 C14.17,13.90 16.17,15.10 17.50,15.90 C18.83,16.70 20.17,17.46 21.50,18.31 C22.83,19.16 24.17,20.06 25.50,21.01 C26.83,21.96 28.17,23.00 29.50,24.00 C30.83,25.00 32.17,26.00 33.50,27.00 C34.83,28.00 36.17,29.00 37.50,29.99 C38.83,30.99 40.17,31.99 41.50,32.99 C42.83,33.98 44.17,35.01 45.50,35.96 C46.83,36.91 48.17,37.79 49.50,38.67 C50.83,39.56 52.17,40.40 53.50,41.26 C54.83,42.12 56.17,42.99 57.50,43.84 C58.83,44.68 60.17,45.49 61.50,46.31 C62.83,47.13 64.17,47.94 65.50,48.74 C66.83,49.55 68.17,50.38 69.50,51.12 C70.83,51.86 72.17,52.50 73.50,53.17 C74.83,53.84 76.17,54.46 77.50,55.13 C78.83,55.80 80.17,56.44 81.50,57.18 C82.83,57.92 84.17,58.75 85.50,59.56 C86.83,60.36 88.17,61.19 89.50,61.99 C90.83,62.79 92.17,63.60 93.50,64.36 C94.83,65.12 96.17,65.83 97.50,66.55 C98.83,67.28 100.17,68.03 101.50,68.72 C102.83,69.42 104.17,70.11 105.50,70.71 C106.83,71.32 108.17,71.80 109.50,72.34 C110.83,72.88 112.17,73.44 113.50,73.94 C114.83,74.43 116.17,74.90 117.50,75.31 C118.83,75.72 120.17,76.03 121.50,76.39 C122.83,76.76 124.17,77.07 125.50,77.49 C126.83,77.92 128.17,78.44 129.50,78.95 C130.83,79.46 132.17,80.02 133.50,80.55 C134.83,81.09 136.17,81.65 137.50,82.15 C138.83,82.66 140.17,83.13 141.50,83.57 C142.83,84.01 144.17,84.38 145.50,84.79 C146.83,85.19 148.17,85.60 149.50,86.00 C150.83,86.40 152.17,86.81 153.50,87.20 C154.83,87.60 156.17,87.99 157.50,88.39 C158.83,88.78 160.17,89.18 161.50,89.57 C162.83,89.96 164.17,90.37 165.50,90.73 C166.83,91.10 168.17,91.43 169.50,91.77 C170.83,92.11 172.17,92.44 173.50,92.78 C174.83,93.11 176.17,93.49 177.50,93.76 C178.83,94.03 180.17,94.24 181.50,94.40 C182.83,94.56 184.17,94.67 185.50,94.71 C186.83,94.75 188.17,94.68 189.50,94.63 C190.83,94.57 192.17,94.48 193.50,94.38 C194.83,94.28 196.17,94.14 197.50,94.02 C198.83,93.90 200.17,93.78 201.50,93.65 C202.83,93.52 204.17,93.38 205.50,93.24 C206.83,93.09 208.17,92.94 209.50,92.78 C210.83,92.63 212.17,92.49 213.50,92.33 C214.83,92.16 216.17,92.00 217.50,91.79 C218.83,91.58 220.17,91.31 221.50,91.07 C222.83,90.83 224.17,90.59 225.50,90.35 C226.83,90.10 228.17,89.86 229.50,89.61 C230.83,89.36 232.17,89.09 233.50,88.83 C234.83,88.57 236.17,88.30 237.50,88.04 C238.83,87.78 240.17,87.48 241.50,87.28 C242.83,87.07 244.17,86.93 245.50,86.80 C246.83,86.67 248.17,86.53 249.50,86.50 C250.83,86.47 252.17,86.48 253.50,86.62 C254.83,86.76 256.17,87.10 257.50,87.34 C258.83,87.58 260.17,87.90 261.50,88.05 C262.83,88.20 264.17,88.22 265.50,88.23 C266.83,88.25 268.17,88.17 269.50,88.14 C270.83,88.11 272.17,88.08 273.50,88.05 C274.83,88.02 276.17,87.99 277.50,87.95 C278.83,87.92 280.17,87.88 281.50,87.84 C282.83,87.80 284.17,87.75 285.50,87.73 C286.83,87.70 288.17,87.62 289.50,87.68 C290.83,87.74 292.17,87.93 293.50,88.09 C294.83,88.25 296.17,88.46 297.50,88.65 C298.83,88.84 300.17,89.02 301.50,89.21 C302.83,89.41 304.17,89.53 305.50,89.82 C306.83,90.12 308.17,90.56 309.50,90.98 C310.83,91.41 312.17,91.91 313.50,92.37 C314.83,92.84 316.17,93.29 317.50,93.77 C318.83,94.26 320.17,94.74 321.50,95.28 C322.83,95.82 324.17,96.30 325.50,97.00 C326.83,97.71 328.17,98.63 329.50,99.50 C330.83,100.37 332.17,101.35 333.50,102.23 C334.83,103.12 336.17,103.97 337.50,104.83 C338.83,105.69 340.17,106.55 341.50,107.40 C342.83,108.25 344.17,109.15 345.50,109.93 C346.83,110.70 348.17,111.38 349.50,112.08 C350.83,112.77 352.17,113.43 353.50,114.11 C354.83,114.78 356.17,115.48 357.50,116.13 C358.83,116.78 360.17,117.41 361.50,118.03 C362.83,118.64 364.17,119.22 365.50,119.82 C366.83,120.41 368.17,121.03 369.50,121.60 C370.83,122.18 372.17,122.75 373.50,123.27 C374.83,123.78 376.17,124.22 377.50,124.69 C378.83,125.16 380.17,125.68 381.50,126.09 C382.83,126.50 384.17,126.85 385.50,127.16 C386.83,127.48 388.17,127.71 389.50,127.99 C390.83,128.26 392.17,128.52 393.50,128.81 C394.83,129.09 396.17,129.37 397.50,129.68 C398.83,129.99 400.17,130.34 401.50,130.68 C402.83,131.01 404.17,131.34 405.50,131.67 C406.83,132.01 408.17,132.34 409.50,132.66 C410.83,132.97 412.17,133.26 413.50,133.56 C414.83,133.86 416.17,134.17 417.50,134.45 C418.83,134.72 420.17,134.99 421.50,135.22 C422.83,135.45 424.17,135.64 425.50,135.83 C426.83,136.02 428.17,136.27 429.50,136.36 C430.83,136.46 432.17,136.41 433.50,136.39 C434.83,136.37 436.17,136.33 437.50,136.27 C438.83,136.21 440.17,136.13 441.50,136.03 C442.83,135.93 444.17,135.78 445.50,135.66 C446.83,135.53 448.17,135.40 449.50,135.28 C450.83,135.15 452.17,135.11 453.50,134.89 C454.83,134.67 456.17,134.48 457.50,133.96 C458.83,133.44 460.17,132.51 461.50,131.75 C462.83,131.00 464.17,130.20 465.50,129.43 C466.83,128.65 468.17,127.88 469.50,127.08 C470.83,126.27 472.17,125.44 473.50,124.61 C474.83,123.79 476.17,122.92 477.50,122.13 C478.83,121.33 480.17,120.45 481.50,119.86 C482.83,119.27 484.17,118.98 485.50,118.59 C486.83,118.19 488.17,117.87 489.50,117.50 C490.83,117.14 492.17,116.80 493.50,116.40 C494.83,116.00 496.17,115.55 497.50,115.10 C498.83,114.66 500.17,114.17 501.50,113.73 C502.83,113.29 504.17,112.85 505.50,112.46 C506.83,112.07 508.17,111.73 509.50,111.37 C510.83,111.01 512.17,110.65 513.50,110.29 C514.83,109.92 516.17,109.62 517.50,109.18 C518.83,108.75 520.17,108.23 521.50,107.68 C522.83,107.14 524.17,106.48 525.50,105.91 C526.83,105.34 528.17,104.75 529.50,104.27 C530.83,103.79 532.17,103.44 533.50,103.03 C534.83,102.63 536.17,102.22 537.50,101.85 C538.83,101.47 540.17,101.10 541.50,100.77 C542.83,100.44 544.17,100.18 545.50,99.85 C546.83,99.53 548.17,99.18 549.50,98.83 C550.83,98.47 552.17,98.08 553.50,97.71 C554.83,97.34 556.17,96.96 557.50,96.59 C558.83,96.22 560.17,95.79 561.50,95.49 C562.83,95.20 564.17,94.98 565.50,94.80 C566.83,94.63 568.17,94.56 569.50,94.44 C570.83,94.32 572.17,94.20 573.50,94.09 C574.83,93.98 576.17,93.77 577.50,93.77 C578.83,93.77 580.17,93.90 581.50,94.08 C582.83,94.26 584.17,94.57 585.50,94.83 C586.83,95.09 588.17,95.32 589.50,95.64 C590.83,95.97 592.17,96.39 593.50,96.78 C594.83,97.17 596.17,97.59 597.50,97.99 C598.83,98.40 600.17,98.82 601.50,99.20 C602.83,99.58 604.17,99.94 605.50,100.28 C606.83,100.63 608.17,101.00 609.50,101.27 C610.83,101.54 612.17,101.71 613.50,101.89 C614.83,102.06 616.17,102.16 617.50,102.30 C618.83,102.44 620.17,102.57 621.50,102.71 C622.83,102.85 624.17,102.97 625.50,103.12 C626.83,103.27 628.17,103.40 629.50,103.61 C630.83,103.82 632.17,104.12 633.50,104.39 C634.83,104.65 636.17,104.93 637.50,105.21 C638.83,105.49 640.17,105.75 641.50,106.04 C642.83,106.33 644.17,106.64 645.50,106.95 C646.83,107.26 648.17,107.57 649.50,107.89 C650.83,108.20 652.17,108.51 653.50,108.82 C654.83,109.14 656.17,109.46 657.50,109.76 C658.83,110.06 660.17,110.35 661.50,110.63 C662.83,110.91 664.17,111.16 665.50,111.42 C666.83,111.69 668.17,111.94 669.50,112.21 C670.83,112.48 672.17,112.74 673.50,113.05 C674.83,113.36 676.17,113.72 677.50,114.06 C678.83,114.39 680.17,114.84 681.50,115.07 C682.83,115.30 684.17,115.41 685.50,115.42 C686.83,115.43 688.17,115.22 689.50,115.11 C690.83,115.00 692.17,114.89 693.50,114.78 C694.83,114.67 696.17,114.63 697.50,114.44 C698.83,114.25 700.17,113.98 701.50,113.65 C702.83,113.32 704.17,112.85 705.50,112.45 C706.83,112.05 708.17,111.66 709.50,111.24 C710.83,110.82 712.17,110.40 713.50,109.91 C714.83,109.43 716.17,108.86 717.50,108.33 C718.83,107.80 720.17,107.25 721.50,106.73 C722.83,106.20 724.17,105.63 725.50,105.18 C726.83,104.73 728.17,104.39 729.50,104.02 C730.83,103.65 732.17,103.32 733.50,102.96 C734.83,102.61 736.17,102.26 737.50,101.91 C738.83,101.55 740.17,101.20 741.50,100.85 C742.83,100.50 744.17,100.16 745.50,99.83 C746.83,99.49 748.17,99.16 749.50,98.83 C750.83,98.49 752.17,98.13 753.50,97.83 C754.83,97.52 756.17,97.22 757.50,97.00 C758.83,96.78 760.17,96.68 761.50,96.52 C762.83,96.36 764.17,96.22 765.50,96.07 C766.83,95.92 768.17,95.76 769.50,95.62 C770.83,95.48 772.17,95.36 773.50,95.23 C774.83,95.09 776.17,95.04 777.50,94.83 C778.83,94.63 780.17,94.38 781.50,94.00 C782.83,93.62 784.17,93.01 785.50,92.55 C786.83,92.09 788.17,91.63 789.50,91.26 C790.83,90.90 792.17,90.65 793.50,90.36 C794.83,90.07 796.17,89.79 797.50,89.53 C798.83,89.27 800.17,89.02 801.50,88.80 C802.83,88.57 804.17,88.34 805.50,88.17 C806.83,88.00 808.17,87.90 809.50,87.80 C810.83,87.70 812.17,87.59 813.50,87.59 C814.83,87.58 816.17,87.69 817.50,87.77 C818.83,87.86 820.17,87.93 821.50,88.09 C822.83,88.25 824.17,88.49 825.50,88.72 C826.83,88.94 828.17,89.17 829.50,89.43 C830.83,89.70 832.17,90.01 833.50,90.32 C834.83,90.62 836.17,90.92 837.50,91.26 C838.83,91.59 840.17,91.97 841.50,92.34 C842.83,92.71 844.17,93.08 845.50,93.48 C846.83,93.88 848.17,94.31 849.50,94.74 C850.83,95.17 852.17,95.61 853.50,96.04 C854.83,96.47 856.17,96.89 857.50,97.31 C858.83,97.74 860.17,98.18 861.50,98.57 C862.83,98.96 864.17,99.31 865.50,99.66 C866.83,100.01 868.17,100.34 869.50,100.67 C870.83,100.99 872.17,101.31 873.50,101.62 C874.83,101.93 876.17,102.24 877.50,102.53 C878.83,102.81 880.17,103.08 881.50,103.32 C882.83,103.55 884.17,103.73 885.50,103.93 C886.83,104.14 888.17,104.33 889.50,104.54 C890.83,104.74 892.17,104.89 893.50,105.16 C894.83,105.43 896.17,105.78 897.50,106.17 C898.83,106.56 900.17,107.05 901.50,107.49 C902.83,107.93 904.17,108.36 905.50,108.81 C906.83,109.26 908.17,109.68 909.50,110.17 C910.83,110.65 912.17,111.19 913.50,111.72 C914.83,112.25 916.17,112.79 917.50,113.32 C918.83,113.85 920.17,114.42 921.50,114.91 C922.83,115.41 924.17,115.86 925.50,116.29 C926.83,116.73 928.17,117.10 929.50,117.51 C930.83,117.91 932.17,118.34 933.50,118.72 C934.83,119.10 936.17,119.48 937.50,119.78 C938.83,120.08 940.17,120.28 941.50,120.53 C942.83,120.77 944.17,121.02 945.50,121.25 C946.83,121.49 948.17,121.75 949.50,121.92 C950.83,122.09 952.17,122.16 953.50,122.27 C954.83,122.37 956.17,122.45 957.50,122.54 C958.83,122.63 960.17,122.73 961.50,122.81 C962.83,122.88 964.17,122.93 965.50,122.98 C966.83,123.03 968.17,123.06 969.50,123.10 C970.83,123.14 972.17,123.19 973.50,123.22 C974.83,123.26 976.17,123.29 977.50,123.32 C978.83,123.35 980.17,123.36 981.50,123.38 C982.83,123.40 984.17,123.44 985.50,123.44 C986.83,123.45 988.17,123.48 989.50,123.41 C990.83,123.33 992.17,123.15 993.50,123.01 C994.83,122.87 996.17,122.70 997.50,122.56 C998.83,122.41 1000.17,122.21 1001.50,122.14 C1002.83,122.06 1004.17,122.09 1005.50,122.12 C1006.83,122.14 1008.17,122.21 1009.50,122.26 C1010.83,122.31 1012.17,122.36 1013.50,122.41 C1014.83,122.46 1016.17,122.51 1017.50,122.56 C1018.83,122.60 1020.17,122.66 1021.50,122.68 C1022.83,122.70 1024.17,122.70 1025.50,122.70 C1026.83,122.70 1028.17,122.70 1029.50,122.70 C1030.83,122.70 1032.17,122.73 1033.50,122.68 C1034.83,122.62 1036.17,122.50 1037.50,122.37 C1038.83,122.24 1040.17,122.07 1041.50,121.92 C1042.83,121.76 1044.17,121.62 1045.50,121.46 C1046.83,121.31 1048.17,121.15 1049.50,120.99 C1050.83,120.82 1052.17,120.66 1053.50,120.49 C1054.83,120.32 1056.17,120.13 1057.50,119.97 C1058.83,119.80 1060.17,119.60 1061.50,119.50 C1062.83,119.40 1064.17,119.18 1065.50,119.36 C1066.83,119.55 1068.17,120.09 1069.50,120.62 C1070.83,121.15 1072.17,121.86 1073.50,122.55 C1074.83,123.23 1076.33,124.09 1077.50,124.73 C1078.67,125.37 1080.00,126.12 1080.50,126.40" fill="none" stroke="#f23645" stroke-width="2.8" stroke-linejoin="round" stroke-linecap="round"/>
</g>
<g clip-path="url(#cp)" shape-rendering="crispEdges">
<rect x="15" y="54" width="1" height="12" fill="#f23645"/>
<rect x="13" y="55" width="5" height="7" fill="#f23645"/>
<rect x="22" y="58" width="1" height="12" fill="#f23645"/>
<rect x="20" y="62" width="5" height="6" fill="#f23645"/>
<rect x="28" y="62" width="1" height="11" fill="#089981"/>
<rect x="26" y="65" width="5" height="3" fill="#089981"/>
<rect x="35" y="58" width="1" height="8" fill="#089981"/>
<rect x="33" y="64" width="5" height="2" fill="#089981"/>
<rect x="41" y="58" width="1" height="8" fill="#089981"/>
<rect x="39" y="62" width="5" height="2" fill="#089981"/>
<rect x="48" y="61" width="1" height="9" fill="#f23645"/>
<rect x="46" y="62" width="5" height="8" fill="#f23645"/>
<rect x="54" y="52" width="1" height="21" fill="#089981"/>
<rect x="52" y="53" width="5" height="17" fill="#089981"/>
<rect x="61" y="45" width="1" height="47" fill="#f23645"/>
<rect x="59" y="52" width="5" height="25" fill="#f23645"/>
<rect x="67" y="77" width="1" height="13" fill="#f23645"/>
<rect x="65" y="77" width="5" height="11" fill="#f23645"/>
<rect x="74" y="86" width="1" height="4" fill="#089981"/>
<rect x="72" y="88" width="5" height="1" fill="#089981"/>
<rect x="80" y="86" width="1" height="12" fill="#f23645"/>
<rect x="78" y="88" width="5" height="9" fill="#f23645"/>
<rect x="87" y="93" width="1" height="9" fill="#089981"/>
<rect x="85" y="95" width="5" height="3" fill="#089981"/>
<rect x="93" y="91" width="1" height="31" fill="#f23645"/>
<rect x="91" y="99" width="5" height="7" fill="#f23645"/>
<rect x="100" y="82" width="1" height="31" fill="#089981"/>
<rect x="98" y="83" width="5" height="24" fill="#089981"/>
<rect x="106" y="80" width="1" height="18" fill="#f23645"/>
<rect x="104" y="83" width="5" height="15" fill="#f23645"/>
<rect x="113" y="94" width="1" height="20" fill="#f23645"/>
<rect x="111" y="96" width="5" height="10" fill="#f23645"/>
<rect x="119" y="99" width="1" height="9" fill="#089981"/>
<rect x="117" y="100" width="5" height="6" fill="#089981"/>
<rect x="126" y="89" width="1" height="14" fill="#089981"/>
<rect x="124" y="92" width="5" height="9" fill="#089981"/>
<rect x="132" y="81" width="1" height="11" fill="#089981"/>
<rect x="130" y="82" width="5" height="10" fill="#089981"/>
<rect x="139" y="74" width="1" height="35" fill="#f23645"/>
<rect x="137" y="83" width="5" height="21" fill="#f23645"/>
<rect x="145" y="91" width="1" height="13" fill="#089981"/>
<rect x="143" y="102" width="5" height="1" fill="#089981"/>
<rect x="152" y="101" width="1" height="11" fill="#f23645"/>
<rect x="150" y="102" width="5" height="5" fill="#f23645"/>
<rect x="158" y="100" width="1" height="5" fill="#f23645"/>
<rect x="156" y="100" width="5" height="3" fill="#f23645"/>
<rect x="164" y="95" width="1" height="10" fill="#f23645"/>
<rect x="162" y="102" width="5" height="2" fill="#f23645"/>
<rect x="171" y="96" width="1" height="8" fill="#089981"/>
<rect x="169" y="97" width="5" height="7" fill="#089981"/>
<rect x="177" y="85" width="1" height="19" fill="#f23645"/>
<rect x="175" y="97" width="5" height="3" fill="#f23645"/>
<rect x="184" y="83" width="1" height="20" fill="#089981"/>
<rect x="182" y="84" width="5" height="16" fill="#089981"/>
<rect x="190" y="68" width="1" height="20" fill="#089981"/>
<rect x="188" y="75" width="5" height="10" fill="#089981"/>
<rect x="197" y="71" width="1" height="6" fill="#089981"/>
<rect x="195" y="74" width="5" height="3" fill="#089981"/>
<rect x="203" y="71" width="1" height="6" fill="#089981"/>
<rect x="201" y="73" width="5" height="1" fill="#089981"/>
<rect x="210" y="71" width="1" height="13" fill="#f23645"/>
<rect x="208" y="73" width="5" height="10" fill="#f23645"/>
<rect x="216" y="77" width="1" height="31" fill="#f23645"/>
<rect x="214" y="82" width="5" height="9" fill="#f23645"/>
<rect x="223" y="71" width="1" height="20" fill="#089981"/>
<rect x="221" y="78" width="5" height="13" fill="#089981"/>
<rect x="229" y="73" width="1" height="12" fill="#089981"/>
<rect x="227" y="74" width="5" height="5" fill="#089981"/>
<rect x="236" y="67" width="1" height="8" fill="#089981"/>
<rect x="234" y="68" width="5" height="7" fill="#089981"/>
<rect x="242" y="66" width="1" height="11" fill="#f23645"/>
<rect x="240" y="68" width="5" height="9" fill="#f23645"/>
<rect x="249" y="73" width="1" height="10" fill="#f23645"/>
<rect x="247" y="76" width="5" height="7" fill="#f23645"/>
<rect x="255" y="81" width="1" height="18" fill="#f23645"/>
<rect x="253" y="82" width="5" height="12" fill="#f23645"/>
<rect x="262" y="89" width="1" height="23" fill="#f23645"/>
<rect x="260" y="93" width="5" height="17" fill="#f23645"/>
<rect x="268" y="99" width="1" height="18" fill="#089981"/>
<rect x="266" y="101" width="5" height="9" fill="#089981"/>
<rect x="275" y="97" width="1" height="5" fill="#089981"/>
<rect x="273" y="98" width="5" height="4" fill="#089981"/>
<rect x="281" y="94" width="1" height="5" fill="#089981"/>
<rect x="279" y="94" width="5" height="4" fill="#089981"/>
<rect x="288" y="93" width="1" height="12" fill="#f23645"/>
<rect x="286" y="94" width="5" height="9" fill="#f23645"/>
<rect x="294" y="99" width="1" height="14" fill="#f23645"/>
<rect x="292" y="102" width="5" height="9" fill="#f23645"/>
<rect x="301" y="98" width="1" height="18" fill="#f23645"/>
<rect x="299" y="110" width="5" height="6" fill="#f23645"/>
<rect x="307" y="113" width="1" height="25" fill="#f23645"/>
<rect x="305" y="115" width="5" height="13" fill="#f23645"/>
<rect x="314" y="126" width="1" height="10" fill="#f23645"/>
<rect x="312" y="127" width="5" height="9" fill="#f23645"/>
<rect x="320" y="130" width="1" height="6" fill="#089981"/>
<rect x="318" y="132" width="5" height="4" fill="#089981"/>
<rect x="327" y="125" width="1" height="14" fill="#089981"/>
<rect x="325" y="127" width="5" height="6" fill="#089981"/>
<rect x="333" y="121" width="1" height="81" fill="#f23645"/>
<rect x="331" y="127" width="5" height="35" fill="#f23645"/>
<rect x="340" y="152" width="1" height="19" fill="#f23645"/>
<rect x="338" y="160" width="5" height="4" fill="#f23645"/>
<rect x="346" y="156" width="1" height="17" fill="#089981"/>
<rect x="344" y="163" width="5" height="1" fill="#089981"/>
<rect x="353" y="160" width="1" height="5" fill="#089981"/>
<rect x="351" y="162" width="5" height="2" fill="#089981"/>
<rect x="359" y="119" width="1" height="42" fill="#089981"/>
<rect x="357" y="130" width="5" height="31" fill="#089981"/>
<rect x="366" y="125" width="1" height="8" fill="#f23645"/>
<rect x="364" y="130" width="5" height="1" fill="#f23645"/>
<rect x="372" y="125" width="1" height="20" fill="#f23645"/>
<rect x="370" y="131" width="5" height="14" fill="#f23645"/>
<rect x="379" y="121" width="1" height="24" fill="#089981"/>
<rect x="377" y="130" width="5" height="15" fill="#089981"/>
<rect x="385" y="105" width="1" height="28" fill="#089981"/>
<rect x="383" y="126" width="5" height="5" fill="#089981"/>
<rect x="392" y="115" width="1" height="21" fill="#089981"/>
<rect x="390" y="117" width="5" height="10" fill="#089981"/>
<rect x="398" y="115" width="1" height="33" fill="#f23645"/>
<rect x="396" y="117" width="5" height="31" fill="#f23645"/>
<rect x="404" y="130" width="1" height="26" fill="#089981"/>
<rect x="402" y="131" width="5" height="17" fill="#089981"/>
<rect x="411" y="124" width="1" height="10" fill="#f23645"/>
<rect x="409" y="131" width="5" height="3" fill="#f23645"/>
<rect x="417" y="110" width="1" height="25" fill="#089981"/>
<rect x="415" y="113" width="5" height="22" fill="#089981"/>
<rect x="424" y="98" width="1" height="33" fill="#f23645"/>
<rect x="422" y="113" width="5" height="18" fill="#f23645"/>
<rect x="430" y="127" width="1" height="14" fill="#f23645"/>
<rect x="428" y="130" width="5" height="4" fill="#f23645"/>
<rect x="437" y="124" width="1" height="10" fill="#089981"/>
<rect x="435" y="124" width="5" height="10" fill="#089981"/>
<rect x="443" y="122" width="1" height="9" fill="#f23645"/>
<rect x="441" y="124" width="5" height="5" fill="#f23645"/>
<rect x="450" y="117" width="1" height="15" fill="#089981"/>
<rect x="448" y="121" width="5" height="8" fill="#089981"/>
<rect x="456" y="100" width="1" height="22" fill="#089981"/>
<rect x="454" y="107" width="5" height="15" fill="#089981"/>
<rect x="463" y="81" width="1" height="29" fill="#089981"/>
<rect x="461" y="85" width="5" height="23" fill="#089981"/>
<rect x="469" y="77" width="1" height="16" fill="#f23645"/>
<rect x="467" y="85" width="5" height="5" fill="#f23645"/>
<rect x="476" y="86" width="1" height="5" fill="#f23645"/>
<rect x="474" y="89" width="5" height="1" fill="#f23645"/>
<rect x="482" y="89" width="1" height="8" fill="#f23645"/>
<rect x="480" y="90" width="5" height="5" fill="#f23645"/>
<rect x="489" y="91" width="1" height="13" fill="#f23645"/>
<rect x="487" y="94" width="5" height="7" fill="#f23645"/>
<rect x="495" y="92" width="1" height="14" fill="#089981"/>
<rect x="493" y="95" width="5" height="6" fill="#089981"/>
<rect x="502" y="92" width="1" height="13" fill="#089981"/>
<rect x="500" y="94" width="5" height="2" fill="#089981"/>
<rect x="508" y="92" width="1" height="5" fill="#089981"/>
<rect x="506" y="92" width="5" height="3" fill="#089981"/>
<rect x="515" y="89" width="1" height="6" fill="#089981"/>
<rect x="513" y="90" width="5" height="3" fill="#089981"/>
<rect x="521" y="83" width="1" height="9" fill="#089981"/>
<rect x="519" y="84" width="5" height="8" fill="#089981"/>
<rect x="528" y="72" width="1" height="16" fill="#089981"/>
<rect x="526" y="81" width="5" height="4" fill="#089981"/>
<rect x="534" y="80" width="1" height="15" fill="#f23645"/>
<rect x="532" y="81" width="5" height="9" fill="#f23645"/>
<rect x="541" y="86" width="1" height="12" fill="#f23645"/>
<rect x="539" y="89" width="5" height="1" fill="#f23645"/>
<rect x="547" y="81" width="1" height="19" fill="#089981"/>
<rect x="545" y="81" width="5" height="10" fill="#089981"/>
<rect x="554" y="79" width="1" height="3" fill="#089981"/>
<rect x="552" y="80" width="5" height="2" fill="#089981"/>
<rect x="560" y="82" width="1" height="21" fill="#f23645"/>
<rect x="558" y="82" width="5" height="16" fill="#f23645"/>
<rect x="567" y="97" width="1" height="13" fill="#f23645"/>
<rect x="565" y="98" width="5" height="11" fill="#f23645"/>
<rect x="573" y="102" width="1" height="17" fill="#f23645"/>
<rect x="571" y="108" width="5" height="11" fill="#f23645"/>
<rect x="580" y="106" width="1" height="16" fill="#089981"/>
<rect x="578" y="109" width="5" height="11" fill="#089981"/>
<rect x="586" y="101" width="1" height="36" fill="#f23645"/>
<rect x="584" y="109" width="5" height="27" fill="#f23645"/>
<rect x="593" y="120" width="1" height="18" fill="#089981"/>
<rect x="591" y="125" width="5" height="11" fill="#089981"/>
<rect x="599" y="112" width="1" height="14" fill="#089981"/>
<rect x="597" y="120" width="5" height="6" fill="#089981"/>
<rect x="606" y="119" width="1" height="10" fill="#f23645"/>
<rect x="604" y="120" width="5" height="6" fill="#f23645"/>
<rect x="612" y="114" width="1" height="15" fill="#089981"/>
<rect x="610" y="121" width="5" height="5" fill="#089981"/>
<rect x="619" y="105" width="1" height="17" fill="#089981"/>
<rect x="617" y="109" width="5" height="13" fill="#089981"/>
<rect x="625" y="106" width="1" height="18" fill="#f23645"/>
<rect x="623" y="109" width="5" height="4" fill="#f23645"/>
<rect x="632" y="105" width="1" height="14" fill="#f23645"/>
<rect x="630" y="112" width="5" height="7" fill="#f23645"/>
<rect x="638" y="114" width="1" height="5" fill="#089981"/>
<rect x="636" y="115" width="5" height="4" fill="#089981"/>
<rect x="645" y="114" width="1" height="12" fill="#f23645"/>
<rect x="643" y="115" width="5" height="9" fill="#f23645"/>
<rect x="651" y="106" width="1" height="18" fill="#089981"/>
<rect x="649" y="116" width="5" height="8" fill="#089981"/>
<rect x="657" y="114" width="1" height="14" fill="#f23645"/>
<rect x="655" y="116" width="5" height="3" fill="#f23645"/>
<rect x="664" y="98" width="1" height="35" fill="#089981"/>
<rect x="662" y="105" width="5" height="14" fill="#089981"/>
<rect x="670" y="99" width="1" height="17" fill="#f23645"/>
<rect x="668" y="105" width="5" height="9" fill="#f23645"/>
<rect x="677" y="111" width="1" height="6" fill="#f23645"/>
<rect x="675" y="114" width="5" height="1" fill="#f23645"/>
<rect x="683" y="109" width="1" height="7" fill="#089981"/>
<rect x="681" y="109" width="5" height="6" fill="#089981"/>
<rect x="690" y="101" width="1" height="10" fill="#089981"/>
<rect x="688" y="103" width="5" height="7" fill="#089981"/>
<rect x="696" y="97" width="1" height="11" fill="#089981"/>
<rect x="694" y="102" width="5" height="1" fill="#089981"/>
<rect x="703" y="76" width="1" height="32" fill="#089981"/>
<rect x="701" y="84" width="5" height="19" fill="#089981"/>
<rect x="709" y="77" width="1" height="15" fill="#089981"/>
<rect x="707" y="77" width="5" height="9" fill="#089981"/>
<rect x="716" y="77" width="1" height="3" fill="#f23645"/>
<rect x="714" y="77" width="5" height="1" fill="#f23645"/>
<rect x="722" y="78" width="1" height="10" fill="#f23645"/>
<rect x="720" y="78" width="5" height="6" fill="#f23645"/>
<rect x="729" y="79" width="1" height="8" fill="#089981"/>
<rect x="727" y="79" width="5" height="5" fill="#089981"/>
<rect x="735" y="74" width="1" height="11" fill="#089981"/>
<rect x="733" y="77" width="5" height="3" fill="#089981"/>
<rect x="742" y="56" width="1" height="42" fill="#f23645"/>
<rect x="740" y="77" width="5" height="13" fill="#f23645"/>
<rect x="748" y="83" width="1" height="17" fill="#f23645"/>
<rect x="746" y="89" width="5" height="5" fill="#f23645"/>
<rect x="755" y="89" width="1" height="5" fill="#089981"/>
<rect x="753" y="89" width="5" height="5" fill="#089981"/>
<rect x="761" y="86" width="1" height="6" fill="#f23645"/>
<rect x="759" y="86" width="5" height="3" fill="#f23645"/>
<rect x="768" y="88" width="1" height="15" fill="#f23645"/>
<rect x="766" y="88" width="5" height="15" fill="#f23645"/>
<rect x="774" y="87" width="1" height="17" fill="#089981"/>
<rect x="772" y="89" width="5" height="14" fill="#089981"/>
<rect x="781" y="78" width="1" height="14" fill="#089981"/>
<rect x="779" y="86" width="5" height="4" fill="#089981"/>
<rect x="787" y="75" width="1" height="17" fill="#089981"/>
<rect x="785" y="75" width="5" height="12" fill="#089981"/>
<rect x="794" y="74" width="1" height="21" fill="#f23645"/>
<rect x="792" y="75" width="5" height="19" fill="#f23645"/>
<rect x="800" y="92" width="1" height="5" fill="#f23645"/>
<rect x="798" y="93" width="5" height="1" fill="#f23645"/>
<rect x="807" y="90" width="1" height="8" fill="#089981"/>
<rect x="805" y="93" width="5" height="1" fill="#089981"/>
<rect x="813" y="87" width="1" height="9" fill="#f23645"/>
<rect x="811" y="92" width="5" height="4" fill="#f23645"/>
<rect x="820" y="95" width="1" height="14" fill="#f23645"/>
<rect x="818" y="96" width="5" height="10" fill="#f23645"/>
<rect x="826" y="103" width="1" height="18" fill="#f23645"/>
<rect x="824" y="105" width="5" height="14" fill="#f23645"/>
<rect x="833" y="105" width="1" height="15" fill="#089981"/>
<rect x="831" y="107" width="5" height="12" fill="#089981"/>
<rect x="839" y="104" width="1" height="3" fill="#089981"/>
<rect x="837" y="105" width="5" height="2" fill="#089981"/>
<rect x="846" y="101" width="1" height="5" fill="#f23645"/>
<rect x="844" y="105" width="5" height="1" fill="#f23645"/>
<rect x="852" y="105" width="1" height="21" fill="#f23645"/>
<rect x="850" y="106" width="5" height="20" fill="#f23645"/>
<rect x="859" y="114" width="1" height="12" fill="#089981"/>
<rect x="857" y="118" width="5" height="8" fill="#089981"/>
<rect x="865" y="102" width="1" height="28" fill="#f23645"/>
<rect x="863" y="118" width="5" height="7" fill="#f23645"/>
<rect x="872" y="114" width="1" height="15" fill="#089981"/>
<rect x="870" y="124" width="5" height="1" fill="#089981"/>
<rect x="878" y="117" width="1" height="9" fill="#089981"/>
<rect x="876" y="117" width="5" height="7" fill="#089981"/>
<rect x="885" y="116" width="1" height="3" fill="#f23645"/>
<rect x="883" y="117" width="5" height="1" fill="#f23645"/>
<rect x="891" y="105" width="1" height="13" fill="#089981"/>
<rect x="889" y="112" width="5" height="6" fill="#089981"/>
<rect x="897" y="110" width="1" height="13" fill="#f23645"/>
<rect x="895" y="112" width="5" height="8" fill="#f23645"/>
<rect x="904" y="110" width="1" height="28" fill="#f23645"/>
<rect x="902" y="119" width="5" height="15" fill="#f23645"/>
<rect x="910" y="111" width="1" height="23" fill="#f23645"/>
<rect x="908" y="133" width="5" height="1" fill="#f23645"/>
<rect x="917" y="132" width="1" height="5" fill="#089981"/>
<rect x="915" y="133" width="5" height="1" fill="#089981"/>
<rect x="923" y="129" width="1" height="11" fill="#f23645"/>
<rect x="921" y="133" width="5" height="7" fill="#f23645"/>
<rect x="930" y="136" width="1" height="7" fill="#f23645"/>
<rect x="928" y="139" width="5" height="1" fill="#f23645"/>
<rect x="936" y="122" width="1" height="19" fill="#089981"/>
<rect x="934" y="125" width="5" height="16" fill="#089981"/>
<rect x="943" y="108" width="1" height="21" fill="#089981"/>
<rect x="941" y="125" width="5" height="1" fill="#089981"/>
<rect x="949" y="117" width="1" height="9" fill="#089981"/>
<rect x="947" y="122" width="5" height="4" fill="#089981"/>
<rect x="956" y="121" width="1" height="2" fill="#089981"/>
<rect x="954" y="121" width="5" height="1" fill="#089981"/>
<rect x="962" y="115" width="1" height="12" fill="#089981"/>
<rect x="960" y="115" width="5" height="5" fill="#089981"/>
<rect x="969" y="109" width="1" height="7" fill="#089981"/>
<rect x="967" y="114" width="5" height="2" fill="#089981"/>
<rect x="975" y="109" width="1" height="9" fill="#f23645"/>
<rect x="973" y="114" width="5" height="4" fill="#f23645"/>
<rect x="982" y="108" width="1" height="20" fill="#f23645"/>
<rect x="980" y="118" width="5" height="6" fill="#f23645"/>
<rect x="988" y="114" width="1" height="18" fill="#089981"/>
<rect x="986" y="117" width="5" height="7" fill="#089981"/>
<rect x="995" y="109" width="1" height="13" fill="#089981"/>
<rect x="993" y="115" width="5" height="3" fill="#089981"/>
<rect x="1001" y="111" width="1" height="6" fill="#089981"/>
<rect x="999" y="112" width="5" height="4" fill="#089981"/>
<rect x="1008" y="103" width="1" height="12" fill="#f23645"/>
<rect x="1006" y="112" width="5" height="3" fill="#f23645"/>
<rect x="1014" y="114" width="1" height="9" fill="#f23645"/>
<rect x="1012" y="114" width="5" height="9" fill="#f23645"/>
<rect x="1021" y="120" width="1" height="10" fill="#f23645"/>
<rect x="1019" y="121" width="5" height="4" fill="#f23645"/>
<rect x="1027" y="114" width="1" height="12" fill="#089981"/>
<rect x="1025" y="121" width="5" height="4" fill="#089981"/>
<rect x="1034" y="112" width="1" height="15" fill="#f23645"/>
<rect x="1032" y="120" width="5" height="7" fill="#f23645"/>
<rect x="1040" y="122" width="1" height="5" fill="#089981"/>
<rect x="1038" y="122" width="5" height="5" fill="#089981"/>
<rect x="1047" y="118" width="1" height="6" fill="#089981"/>
<rect x="1045" y="120" width="5" height="4" fill="#089981"/>
<rect x="1053" y="114" width="1" height="9" fill="#f23645"/>
<rect x="1051" y="120" width="5" height="2" fill="#f23645"/>
<rect x="1060" y="118" width="1" height="8" fill="#f23645"/>
<rect x="1058" y="119" width="5" height="1" fill="#f23645"/>
<rect x="1066" y="118" width="1" height="16" fill="#f23645"/>
<rect x="1064" y="120" width="5" height="14" fill="#f23645"/>
<rect x="1073" y="125" width="1" height="56" fill="#f23645"/>
<rect x="1071" y="133" width="5" height="48" fill="#f23645"/>
<rect x="1079" y="178" width="1" height="18" fill="#f23645"/>
<rect x="1077" y="180" width="5" height="10" fill="#f23645"/>
</g>
<g shape-rendering="crispEdges">
<rect x="14" y="190" width="1" height="1" fill="#f23645"/><rect x="17" y="190" width="1" height="1" fill="#f23645"/><rect x="20" y="190" width="1" height="1" fill="#f23645"/><rect x="23" y="190" width="1" height="1" fill="#f23645"/><rect x="26" y="190" width="1" height="1" fill="#f23645"/><rect x="29" y="190" width="1" height="1" fill="#f23645"/><rect x="32" y="190" width="1" height="1" fill="#f23645"/><rect x="35" y="190" width="1" height="1" fill="#f23645"/><rect x="38" y="190" width="1" height="1" fill="#f23645"/><rect x="41" y="190" width="1" height="1" fill="#f23645"/><rect x="44" y="190" width="1" height="1" fill="#f23645"/><rect x="47" y="190" width="1" height="1" fill="#f23645"/><rect x="50" y="190" width="1" height="1" fill="#f23645"/><rect x="53" y="190" width="1" height="1" fill="#f23645"/><rect x="56" y="190" width="1" height="1" fill="#f23645"/><rect x="59" y="190" width="1" height="1" fill="#f23645"/><rect x="62" y="190" width="1" height="1" fill="#f23645"/><rect x="65" y="190" width="1" height="1" fill="#f23645"/><rect x="68" y="190" width="1" height="1" fill="#f23645"/><rect x="71" y="190" width="1" height="1" fill="#f23645"/><rect x="74" y="190" width="1" height="1" fill="#f23645"/><rect x="77" y="190" width="1" height="1" fill="#f23645"/><rect x="80" y="190" width="1" height="1" fill="#f23645"/><rect x="83" y="190" width="1" height="1" fill="#f23645"/><rect x="86" y="190" width="1" height="1" fill="#f23645"/><rect x="89" y="190" width="1" height="1" fill="#f23645"/><rect x="92" y="190" width="1" height="1" fill="#f23645"/><rect x="95" y="190" width="1" height="1" fill="#f23645"/><rect x="98" y="190" width="1" height="1" fill="#f23645"/><rect x="101" y="190" width="1" height="1" fill="#f23645"/><rect x="104" y="190" width="1" height="1" fill="#f23645"/><rect x="107" y="190" width="1" height="1" fill="#f23645"/><rect x="110" y="190" width="1" height="1" fill="#f23645"/><rect x="113" y="190" width="1" height="1" fill="#f23645"/><rect x="116" y="190" width="1" height="1" fill="#f23645"/><rect x="119" y="190" width="1" height="1" fill="#f23645"/><rect x="122" y="190" width="1" height="1" fill="#f23645"/><rect x="125" y="190" width="1" height="1" fill="#f23645"/><rect x="128" y="190" width="1" height="1" fill="#f23645"/><rect x="131" y="190" width="1" height="1" fill="#f23645"/><rect x="134" y="190" width="1" height="1" fill="#f23645"/><rect x="137" y="190" width="1" height="1" fill="#f23645"/><rect x="140" y="190" width="1" height="1" fill="#f23645"/><rect x="143" y="190" width="1" height="1" fill="#f23645"/><rect x="146" y="190" width="1" height="1" fill="#f23645"/><rect x="149" y="190" width="1" height="1" fill="#f23645"/><rect x="152" y="190" width="1" height="1" fill="#f23645"/><rect x="155" y="190" width="1" height="1" fill="#f23645"/><rect x="158" y="190" width="1" height="1" fill="#f23645"/><rect x="161" y="190" width="1" height="1" fill="#f23645"/><rect x="164" y="190" width="1" height="1" fill="#f23645"/><rect x="167" y="190" width="1" height="1" fill="#f23645"/><rect x="170" y="190" width="1" height="1" fill="#f23645"/><rect x="173" y="190" width="1" height="1" fill="#f23645"/><rect x="176" y="190" width="1" height="1" fill="#f23645"/><rect x="179" y="190" width="1" height="1" fill="#f23645"/><rect x="182" y="190" width="1" height="1" fill="#f23645"/><rect x="185" y="190" width="1" height="1" fill="#f23645"/><rect x="188" y="190" width="1" height="1" fill="#f23645"/><rect x="191" y="190" width="1" height="1" fill="#f23645"/><rect x="194" y="190" width="1" height="1" fill="#f23645"/><rect x="197" y="190" width="1" height="1" fill="#f23645"/><rect x="200" y="190" width="1" height="1" fill="#f23645"/><rect x="203" y="190" width="1" height="1" fill="#f23645"/><rect x="206" y="190" width="1" height="1" fill="#f23645"/><rect x="209" y="190" width="1" height="1" fill="#f23645"/><rect x="212" y="190" width="1" height="1" fill="#f23645"/><rect x="215" y="190" width="1" height="1" fill="#f23645"/><rect x="218" y="190" width="1" height="1" fill="#f23645"/><rect x="221" y="190" width="1" height="1" fill="#f23645"/><rect x="224" y="190" width="1" height="1" fill="#f23645"/><rect x="227" y="190" width="1" height="1" fill="#f23645"/><rect x="230" y="190" width="1" height="1" fill="#f23645"/><rect x="233" y="190" width="1" height="1" fill="#f23645"/><rect x="236" y="190" width="1" height="1" fill="#f23645"/><rect x="239" y="190" width="1" height="1" fill="#f23645"/><rect x="242" y="190" width="1" height="1" fill="#f23645"/><rect x="245" y="190" width="1" height="1" fill="#f23645"/><rect x="248" y="190" width="1" height="1" fill="#f23645"/><rect x="251" y="190" width="1" height="1" fill="#f23645"/><rect x="254" y="190" width="1" height="1" fill="#f23645"/><rect x="257" y="190" width="1" height="1" fill="#f23645"/><rect x="260" y="190" width="1" height="1" fill="#f23645"/><rect x="263" y="190" width="1" height="1" fill="#f23645"/><rect x="266" y="190" width="1" height="1" fill="#f23645"/><rect x="269" y="190" width="1" height="1" fill="#f23645"/><rect x="272" y="190" width="1" height="1" fill="#f23645"/><rect x="275" y="190" width="1" height="1" fill="#f23645"/><rect x="278" y="190" width="1" height="1" fill="#f23645"/><rect x="281" y="190" width="1" height="1" fill="#f23645"/><rect x="284" y="190" width="1" height="1" fill="#f23645"/><rect x="287" y="190" width="1" height="1" fill="#f23645"/><rect x="290" y="190" width="1" height="1" fill="#f23645"/><rect x="293" y="190" width="1" height="1" fill="#f23645"/><rect x="296" y="190" width="1" height="1" fill="#f23645"/><rect x="299" y="190" width="1" height="1" fill="#f23645"/><rect x="302" y="190" width="1" height="1" fill="#f23645"/><rect x="305" y="190" width="1" height="1" fill="#f23645"/><rect x="308" y="190" width="1" height="1" fill="#f23645"/><rect x="311" y="190" width="1" height="1" fill="#f23645"/><rect x="314" y="190" width="1" height="1" fill="#f23645"/><rect x="317" y="190" width="1" height="1" fill="#f23645"/><rect x="320" y="190" width="1" height="1" fill="#f23645"/><rect x="323" y="190" width="1" height="1" fill="#f23645"/><rect x="326" y="190" width="1" height="1" fill="#f23645"/><rect x="329" y="190" width="1" height="1" fill="#f23645"/><rect x="332" y="190" width="1" height="1" fill="#f23645"/><rect x="335" y="190" width="1" height="1" fill="#f23645"/><rect x="338" y="190" width="1" height="1" fill="#f23645"/><rect x="341" y="190" width="1" height="1" fill="#f23645"/><rect x="344" y="190" width="1" height="1" fill="#f23645"/><rect x="347" y="190" width="1" height="1" fill="#f23645"/><rect x="350" y="190" width="1" height="1" fill="#f23645"/><rect x="353" y="190" width="1" height="1" fill="#f23645"/><rect x="356" y="190" width="1" height="1" fill="#f23645"/><rect x="359" y="190" width="1" height="1" fill="#f23645"/><rect x="362" y="190" width="1" height="1" fill="#f23645"/><rect x="365" y="190" width="1" height="1" fill="#f23645"/><rect x="368" y="190" width="1" height="1" fill="#f23645"/><rect x="371" y="190" width="1" height="1" fill="#f23645"/><rect x="374" y="190" width="1" height="1" fill="#f23645"/><rect x="377" y="190" width="1" height="1" fill="#f23645"/><rect x="380" y="190" width="1" height="1" fill="#f23645"/><rect x="383" y="190" width="1" height="1" fill="#f23645"/><rect x="386" y="190" width="1" height="1" fill="#f23645"/><rect x="389" y="190" width="1" height="1" fill="#f23645"/><rect x="392" y="190" width="1" height="1" fill="#f23645"/><rect x="395" y="190" width="1" height="1" fill="#f23645"/><rect x="398" y="190" width="1" height="1" fill="#f23645"/><rect x="401" y="190" width="1" height="1" fill="#f23645"/><rect x="404" y="190" width="1" height="1" fill="#f23645"/><rect x="407" y="190" width="1" height="1" fill="#f23645"/><rect x="410" y="190" width="1" height="1" fill="#f23645"/><rect x="413" y="190" width="1" height="1" fill="#f23645"/><rect x="416" y="190" width="1" height="1" fill="#f23645"/><rect x="419" y="190" width="1" height="1" fill="#f23645"/><rect x="422" y="190" width="1" height="1" fill="#f23645"/><rect x="425" y="190" width="1" height="1" fill="#f23645"/><rect x="428" y="190" width="1" height="1" fill="#f23645"/><rect x="431" y="190" width="1" height="1" fill="#f23645"/><rect x="434" y="190" width="1" height="1" fill="#f23645"/><rect x="437" y="190" width="1" height="1" fill="#f23645"/><rect x="440" y="190" width="1" height="1" fill="#f23645"/><rect x="443" y="190" width="1" height="1" fill="#f23645"/><rect x="446" y="190" width="1" height="1" fill="#f23645"/><rect x="449" y="190" width="1" height="1" fill="#f23645"/><rect x="452" y="190" width="1" height="1" fill="#f23645"/><rect x="455" y="190" width="1" height="1" fill="#f23645"/><rect x="458" y="190" width="1" height="1" fill="#f23645"/><rect x="461" y="190" width="1" height="1" fill="#f23645"/><rect x="464" y="190" width="1" height="1" fill="#f23645"/><rect x="467" y="190" width="1" height="1" fill="#f23645"/><rect x="470" y="190" width="1" height="1" fill="#f23645"/><rect x="473" y="190" width="1" height="1" fill="#f23645"/><rect x="476" y="190" width="1" height="1" fill="#f23645"/><rect x="479" y="190" width="1" height="1" fill="#f23645"/><rect x="482" y="190" width="1" height="1" fill="#f23645"/><rect x="485" y="190" width="1" height="1" fill="#f23645"/><rect x="488" y="190" width="1" height="1" fill="#f23645"/><rect x="491" y="190" width="1" height="1" fill="#f23645"/><rect x="494" y="190" width="1" height="1" fill="#f23645"/><rect x="497" y="190" width="1" height="1" fill="#f23645"/><rect x="500" y="190" width="1" height="1" fill="#f23645"/><rect x="503" y="190" width="1" height="1" fill="#f23645"/><rect x="506" y="190" width="1" height="1" fill="#f23645"/><rect x="509" y="190" width="1" height="1" fill="#f23645"/><rect x="512" y="190" width="1" height="1" fill="#f23645"/><rect x="515" y="190" width="1" height="1" fill="#f23645"/><rect x="518" y="190" width="1" height="1" fill="#f23645"/><rect x="521" y="190" width="1" height="1" fill="#f23645"/><rect x="524" y="190" width="1" height="1" fill="#f23645"/><rect x="527" y="190" width="1" height="1" fill="#f23645"/><rect x="530" y="190" width="1" height="1" fill="#f23645"/><rect x="533" y="190" width="1" height="1" fill="#f23645"/><rect x="536" y="190" width="1" height="1" fill="#f23645"/><rect x="539" y="190" width="1" height="1" fill="#f23645"/><rect x="542" y="190" width="1" height="1" fill="#f23645"/><rect x="545" y="190" width="1" height="1" fill="#f23645"/><rect x="548" y="190" width="1" height="1" fill="#f23645"/><rect x="551" y="190" width="1" height="1" fill="#f23645"/><rect x="554" y="190" width="1" height="1" fill="#f23645"/><rect x="557" y="190" width="1" height="1" fill="#f23645"/><rect x="560" y="190" width="1" height="1" fill="#f23645"/><rect x="563" y="190" width="1" height="1" fill="#f23645"/><rect x="566" y="190" width="1" height="1" fill="#f23645"/><rect x="569" y="190" width="1" height="1" fill="#f23645"/><rect x="572" y="190" width="1" height="1" fill="#f23645"/><rect x="575" y="190" width="1" height="1" fill="#f23645"/><rect x="578" y="190" width="1" height="1" fill="#f23645"/><rect x="581" y="190" width="1" height="1" fill="#f23645"/><rect x="584" y="190" width="1" height="1" fill="#f23645"/><rect x="587" y="190" width="1" height="1" fill="#f23645"/><rect x="590" y="190" width="1" height="1" fill="#f23645"/><rect x="593" y="190" width="1" height="1" fill="#f23645"/><rect x="596" y="190" width="1" height="1" fill="#f23645"/><rect x="599" y="190" width="1" height="1" fill="#f23645"/><rect x="602" y="190" width="1" height="1" fill="#f23645"/><rect x="605" y="190" width="1" height="1" fill="#f23645"/><rect x="608" y="190" width="1" height="1" fill="#f23645"/><rect x="611" y="190" width="1" height="1" fill="#f23645"/><rect x="614" y="190" width="1" height="1" fill="#f23645"/><rect x="617" y="190" width="1" height="1" fill="#f23645"/><rect x="620" y="190" width="1" height="1" fill="#f23645"/><rect x="623" y="190" width="1" height="1" fill="#f23645"/><rect x="626" y="190" width="1" height="1" fill="#f23645"/><rect x="629" y="190" width="1" height="1" fill="#f23645"/><rect x="632" y="190" width="1" height="1" fill="#f23645"/><rect x="635" y="190" width="1" height="1" fill="#f23645"/><rect x="638" y="190" width="1" height="1" fill="#f23645"/><rect x="641" y="190" width="1" height="1" fill="#f23645"/><rect x="644" y="190" width="1" height="1" fill="#f23645"/><rect x="647" y="190" width="1" height="1" fill="#f23645"/><rect x="650" y="190" width="1" height="1" fill="#f23645"/><rect x="653" y="190" width="1" height="1" fill="#f23645"/><rect x="656" y="190" width="1" height="1" fill="#f23645"/><rect x="659" y="190" width="1" height="1" fill="#f23645"/><rect x="662" y="190" width="1" height="1" fill="#f23645"/><rect x="665" y="190" width="1" height="1" fill="#f23645"/><rect x="668" y="190" width="1" height="1" fill="#f23645"/><rect x="671" y="190" width="1" height="1" fill="#f23645"/><rect x="674" y="190" width="1" height="1" fill="#f23645"/><rect x="677" y="190" width="1" height="1" fill="#f23645"/><rect x="680" y="190" width="1" height="1" fill="#f23645"/><rect x="683" y="190" width="1" height="1" fill="#f23645"/><rect x="686" y="190" width="1" height="1" fill="#f23645"/><rect x="689" y="190" width="1" height="1" fill="#f23645"/><rect x="692" y="190" width="1" height="1" fill="#f23645"/><rect x="695" y="190" width="1" height="1" fill="#f23645"/><rect x="698" y="190" width="1" height="1" fill="#f23645"/><rect x="701" y="190" width="1" height="1" fill="#f23645"/><rect x="704" y="190" width="1" height="1" fill="#f23645"/><rect x="707" y="190" width="1" height="1" fill="#f23645"/><rect x="710" y="190" width="1" height="1" fill="#f23645"/><rect x="713" y="190" width="1" height="1" fill="#f23645"/><rect x="716" y="190" width="1" height="1" fill="#f23645"/><rect x="719" y="190" width="1" height="1" fill="#f23645"/><rect x="722" y="190" width="1" height="1" fill="#f23645"/><rect x="725" y="190" width="1" height="1" fill="#f23645"/><rect x="728" y="190" width="1" height="1" fill="#f23645"/><rect x="731" y="190" width="1" height="1" fill="#f23645"/><rect x="734" y="190" width="1" height="1" fill="#f23645"/><rect x="737" y="190" width="1" height="1" fill="#f23645"/><rect x="740" y="190" width="1" height="1" fill="#f23645"/><rect x="743" y="190" width="1" height="1" fill="#f23645"/><rect x="746" y="190" width="1" height="1" fill="#f23645"/><rect x="749" y="190" width="1" height="1" fill="#f23645"/><rect x="752" y="190" width="1" height="1" fill="#f23645"/><rect x="755" y="190" width="1" height="1" fill="#f23645"/><rect x="758" y="190" width="1" height="1" fill="#f23645"/><rect x="761" y="190" width="1" height="1" fill="#f23645"/><rect x="764" y="190" width="1" height="1" fill="#f23645"/><rect x="767" y="190" width="1" height="1" fill="#f23645"/><rect x="770" y="190" width="1" height="1" fill="#f23645"/><rect x="773" y="190" width="1" height="1" fill="#f23645"/><rect x="776" y="190" width="1" height="1" fill="#f23645"/><rect x="779" y="190" width="1" height="1" fill="#f23645"/><rect x="782" y="190" width="1" height="1" fill="#f23645"/><rect x="785" y="190" width="1" height="1" fill="#f23645"/><rect x="788" y="190" width="1" height="1" fill="#f23645"/><rect x="791" y="190" width="1" height="1" fill="#f23645"/><rect x="794" y="190" width="1" height="1" fill="#f23645"/><rect x="797" y="190" width="1" height="1" fill="#f23645"/><rect x="800" y="190" width="1" height="1" fill="#f23645"/><rect x="803" y="190" width="1" height="1" fill="#f23645"/><rect x="806" y="190" width="1" height="1" fill="#f23645"/><rect x="809" y="190" width="1" height="1" fill="#f23645"/><rect x="812" y="190" width="1" height="1" fill="#f23645"/><rect x="815" y="190" width="1" height="1" fill="#f23645"/><rect x="818" y="190" width="1" height="1" fill="#f23645"/><rect x="821" y="190" width="1" height="1" fill="#f23645"/><rect x="824" y="190" width="1" height="1" fill="#f23645"/><rect x="827" y="190" width="1" height="1" fill="#f23645"/><rect x="830" y="190" width="1" height="1" fill="#f23645"/><rect x="833" y="190" width="1" height="1" fill="#f23645"/><rect x="836" y="190" width="1" height="1" fill="#f23645"/><rect x="839" y="190" width="1" height="1" fill="#f23645"/><rect x="842" y="190" width="1" height="1" fill="#f23645"/><rect x="845" y="190" width="1" height="1" fill="#f23645"/><rect x="848" y="190" width="1" height="1" fill="#f23645"/><rect x="851" y="190" width="1" height="1" fill="#f23645"/><rect x="854" y="190" width="1" height="1" fill="#f23645"/><rect x="857" y="190" width="1" height="1" fill="#f23645"/><rect x="860" y="190" width="1" height="1" fill="#f23645"/><rect x="863" y="190" width="1" height="1" fill="#f23645"/><rect x="866" y="190" width="1" height="1" fill="#f23645"/><rect x="869" y="190" width="1" height="1" fill="#f23645"/><rect x="872" y="190" width="1" height="1" fill="#f23645"/><rect x="875" y="190" width="1" height="1" fill="#f23645"/><rect x="878" y="190" width="1" height="1" fill="#f23645"/><rect x="881" y="190" width="1" height="1" fill="#f23645"/><rect x="884" y="190" width="1" height="1" fill="#f23645"/><rect x="887" y="190" width="1" height="1" fill="#f23645"/><rect x="890" y="190" width="1" height="1" fill="#f23645"/><rect x="893" y="190" width="1" height="1" fill="#f23645"/><rect x="896" y="190" width="1" height="1" fill="#f23645"/><rect x="899" y="190" width="1" height="1" fill="#f23645"/><rect x="902" y="190" width="1" height="1" fill="#f23645"/><rect x="905" y="190" width="1" height="1" fill="#f23645"/><rect x="908" y="190" width="1" height="1" fill="#f23645"/><rect x="911" y="190" width="1" height="1" fill="#f23645"/><rect x="914" y="190" width="1" height="1" fill="#f23645"/><rect x="917" y="190" width="1" height="1" fill="#f23645"/><rect x="920" y="190" width="1" height="1" fill="#f23645"/><rect x="923" y="190" width="1" height="1" fill="#f23645"/><rect x="926" y="190" width="1" height="1" fill="#f23645"/><rect x="929" y="190" width="1" height="1" fill="#f23645"/><rect x="932" y="190" width="1" height="1" fill="#f23645"/><rect x="935" y="190" width="1" height="1" fill="#f23645"/><rect x="938" y="190" width="1" height="1" fill="#f23645"/><rect x="941" y="190" width="1" height="1" fill="#f23645"/><rect x="944" y="190" width="1" height="1" fill="#f23645"/><rect x="947" y="190" width="1" height="1" fill="#f23645"/><rect x="950" y="190" width="1" height="1" fill="#f23645"/><rect x="953" y="190" width="1" height="1" fill="#f23645"/><rect x="956" y="190" width="1" height="1" fill="#f23645"/><rect x="959" y="190" width="1" height="1" fill="#f23645"/><rect x="962" y="190" width="1" height="1" fill="#f23645"/><rect x="965" y="190" width="1" height="1" fill="#f23645"/><rect x="968" y="190" width="1" height="1" fill="#f23645"/><rect x="971" y="190" width="1" height="1" fill="#f23645"/><rect x="974" y="190" width="1" height="1" fill="#f23645"/><rect x="977" y="190" width="1" height="1" fill="#f23645"/><rect x="980" y="190" width="1" height="1" fill="#f23645"/><rect x="983" y="190" width="1" height="1" fill="#f23645"/><rect x="986" y="190" width="1" height="1" fill="#f23645"/><rect x="989" y="190" width="1" height="1" fill="#f23645"/><rect x="992" y="190" width="1" height="1" fill="#f23645"/><rect x="995" y="190" width="1" height="1" fill="#f23645"/><rect x="998" y="190" width="1" height="1" fill="#f23645"/><rect x="1001" y="190" width="1" height="1" fill="#f23645"/><rect x="1004" y="190" width="1" height="1" fill="#f23645"/><rect x="1007" y="190" width="1" height="1" fill="#f23645"/><rect x="1010" y="190" width="1" height="1" fill="#f23645"/><rect x="1013" y="190" width="1" height="1" fill="#f23645"/><rect x="1016" y="190" width="1" height="1" fill="#f23645"/><rect x="1019" y="190" width="1" height="1" fill="#f23645"/><rect x="1022" y="190" width="1" height="1" fill="#f23645"/><rect x="1025" y="190" width="1" height="1" fill="#f23645"/><rect x="1028" y="190" width="1" height="1" fill="#f23645"/><rect x="1031" y="190" width="1" height="1" fill="#f23645"/><rect x="1034" y="190" width="1" height="1" fill="#f23645"/><rect x="1037" y="190" width="1" height="1" fill="#f23645"/><rect x="1040" y="190" width="1" height="1" fill="#f23645"/><rect x="1043" y="190" width="1" height="1" fill="#f23645"/><rect x="1046" y="190" width="1" height="1" fill="#f23645"/><rect x="1049" y="190" width="1" height="1" fill="#f23645"/><rect x="1052" y="190" width="1" height="1" fill="#f23645"/><rect x="1055" y="190" width="1" height="1" fill="#f23645"/><rect x="1058" y="190" width="1" height="1" fill="#f23645"/><rect x="1061" y="190" width="1" height="1" fill="#f23645"/><rect x="1064" y="190" width="1" height="1" fill="#f23645"/><rect x="1067" y="190" width="1" height="1" fill="#f23645"/><rect x="1070" y="190" width="1" height="1" fill="#f23645"/><rect x="1073" y="190" width="1" height="1" fill="#f23645"/><rect x="1076" y="190" width="1" height="1" fill="#f23645"/><rect x="1079" y="190" width="1" height="1" fill="#f23645"/><rect x="1082" y="190" width="1" height="1" fill="#f23645"/><rect x="1085" y="190" width="1" height="1" fill="#f23645"/><rect x="1088" y="190" width="1" height="1" fill="#f23645"/><rect x="1091" y="190" width="1" height="1" fill="#f23645"/><rect x="1094" y="190" width="1" height="1" fill="#f23645"/><rect x="1097" y="190" width="1" height="1" fill="#f23645"/><rect x="1100" y="190" width="1" height="1" fill="#f23645"/><rect x="1103" y="190" width="1" height="1" fill="#f23645"/><rect x="1106" y="190" width="1" height="1" fill="#f23645"/><rect x="1109" y="190" width="1" height="1" fill="#f23645"/><rect x="1112" y="190" width="1" height="1" fill="#f23645"/><rect x="1115" y="190" width="1" height="1" fill="#f23645"/><rect x="1118" y="190" width="1" height="1" fill="#f23645"/><rect x="1121" y="190" width="1" height="1" fill="#f23645"/><rect x="1124" y="190" width="1" height="1" fill="#f23645"/><rect x="1127" y="190" width="1" height="1" fill="#f23645"/><rect x="1130" y="190" width="1" height="1" fill="#f23645"/><rect x="1133" y="190" width="1" height="1" fill="#f23645"/><rect x="1136" y="190" width="1" height="1" fill="#f23645"/><rect x="1139" y="190" width="1" height="1" fill="#f23645"/><rect x="1142" y="190" width="1" height="1" fill="#f23645"/><rect x="1145" y="190" width="1" height="1" fill="#f23645"/><rect x="1148" y="190" width="1" height="1" fill="#f23645"/><rect x="1151" y="190" width="1" height="1" fill="#f23645"/><rect x="1154" y="190" width="1" height="1" fill="#f23645"/><rect x="1157" y="190" width="1" height="1" fill="#f23645"/><rect x="1160" y="190" width="1" height="1" fill="#f23645"/><rect x="1163" y="190" width="1" height="1" fill="#f23645"/>
</g>
<g clip-path="url(#cm)">
<polyline points="9.3,373.0 15.5,374.9 22.5,377.4 28.5,377.4 35.5,368.2 41.5,359.5 48.5,359.5 54.5,350.8 61.5,368.5 67.5,368.5 74.5,366.3 80.5,367.4 87.5,363.8 93.5,371.1 100.5,359.0 106.5,367.9 113.5,368.2 119.5,375.3 126.5,355.8 132.5,343.1 139.5,355.5 145.5,349.5 152.5,353.5 158.5,344.4 164.5,358.4 171.5,346.3 177.5,342.5 184.5,336.5 190.5,336.5 197.5,341.2 203.5,328.2 210.5,334.6 216.5,336.5 223.5,330.9 229.5,328.5 236.5,328.5 242.5,333.0 249.5,344.4 255.5,356.8 262.5,368.2 268.5,363.1 275.5,355.5 281.5,349.5 288.5,361.1 294.5,368.2 301.5,375.3 307.5,377.7 314.5,379.0 320.5,369.8 327.5,357.4 333.5,382.5 340.5,386.4 346.5,388.8 353.5,382.5 359.5,358.4 366.5,355.8 372.5,356.3 379.5,343.1 385.5,342.0 392.5,340.0 398.5,338.0 404.5,326.2 411.5,328.2 417.5,317.1 424.5,346.3 430.5,347.9 437.5,334.1 443.5,345.7 450.5,343.1 456.5,340.4 463.5,308.7 469.5,320.9 476.5,319.8 482.5,334.1 489.5,327.8 495.5,323.5 502.5,328.2 508.5,324.6 515.5,328.2 521.5,333.0 528.5,343.1 534.5,346.3 541.5,346.8 547.5,337.7 554.5,334.1 560.5,348.4 567.5,355.5 573.5,362.2 580.5,357.6 586.5,377.4 593.5,372.2 599.5,364.7 606.5,367.4 612.5,370.6 619.5,364.2 625.5,354.2 632.5,351.5 638.5,344.4 645.5,355.2 651.5,334.6 657.5,341.6 664.5,337.7 670.5,339.3 677.5,342.0 683.5,346.3 690.5,340.9 696.5,336.8 703.5,328.2 709.5,318.7 716.5,323.5 722.5,325.4 729.5,330.1 735.5,324.6 742.5,331.4 748.5,337.3 755.5,338.1 761.5,338.1 768.5,356.8 774.5,353.1 781.5,351.5 787.5,342.0 794.5,355.2 800.5,356.3 807.5,347.9 813.5,348.4 820.5,356.3 826.5,364.7 833.5,350.0 839.5,356.3 846.5,359.0 852.5,376.4 859.5,361.9 865.5,365.3 872.5,365.8 878.5,359.5 885.5,354.2 891.5,342.5 897.5,353.1 904.5,363.8 910.5,363.1 917.5,351.5 923.5,359.5 930.5,355.8 936.5,347.3 943.5,351.1 949.5,349.5 956.5,350.0 962.5,343.5 969.5,334.6 975.5,336.8 982.5,341.2 988.5,332.5 995.5,331.4 1001.5,338.1 1008.5,339.7 1014.5,346.0 1021.5,347.9 1027.5,350.0 1034.5,353.6 1040.5,349.5 1047.5,343.6 1053.5,349.5 1060.5,350.8 1066.5,359.5 1073.5,386.4 1079.5,388.0" fill="none" stroke="#2196f3" stroke-width="1.3" stroke-linejoin="round" stroke-linecap="round"/>
</g>
<g clip-path="url(#cr)">
<polyline points="9.3,500.0 15.5,502.5 22.5,505.0 28.5,502.3 35.5,499.4 41.5,498.1 48.5,501.9 54.5,479.0 61.5,494.0 67.5,498.8 74.5,498.8 80.5,502.3 87.5,500.8 93.5,505.6 100.5,478.6 106.5,485.7 113.5,491.1 119.5,484.8 126.5,478.0 132.5,467.0 139.5,479.4 145.5,478.6 152.5,481.5 158.5,476.9 164.5,477.3 171.5,470.3 177.5,472.3 184.5,456.1 190.5,448.2 197.5,446.8 203.5,445.7 210.5,455.7 216.5,462.8 223.5,450.3 229.5,446.8 236.5,441.2 242.5,449.9 249.5,455.7 255.5,467.6 262.5,479.0 268.5,469.6 275.5,465.5 281.5,462.0 288.5,468.6 294.5,475.3 301.5,479.4 307.5,488.4 314.5,492.5 320.5,489.0 327.5,481.5 333.5,500.8 340.5,502.3 346.5,502.3 353.5,499.4 359.5,463.4 366.5,464.0 372.5,473.2 379.5,460.7 385.5,456.5 392.5,449.7 398.5,471.1 404.5,458.2 411.5,459.9 417.5,446.2 424.5,457.2 430.5,459.3 437.5,452.4 443.5,455.7 450.5,449.5 456.5,440.5 463.5,428.1 469.5,431.2 476.5,431.6 482.5,437.4 489.5,441.2 495.5,437.8 502.5,437.0 508.5,435.3 515.5,433.7 521.5,428.7 528.5,426.0 534.5,437.0 541.5,437.8 547.5,429.5 554.5,428.3 560.5,452.0 567.5,461.3 573.5,470.3 580.5,460.1 586.5,479.0 593.5,469.0 599.5,464.0 606.5,467.6 612.5,464.0 619.5,453.0 625.5,456.1 632.5,460.3 638.5,457.8 645.5,464.9 651.5,457.2 657.5,459.3 664.5,446.8 670.5,454.5 677.5,455.1 683.5,449.5 690.5,443.2 696.5,442.6 703.5,426.6 709.5,421.2 716.5,421.8 722.5,429.1 729.5,426.0 735.5,424.5 742.5,441.2 748.5,446.8 755.5,441.6 761.5,440.5 768.5,458.2 774.5,443.7 781.5,441.4 787.5,431.2 794.5,451.6 800.5,451.6 807.5,450.3 813.5,455.1 820.5,465.5 826.5,475.3 833.5,462.4 839.5,460.3 846.5,462.0 852.5,478.6 859.5,470.3 865.5,475.3 872.5,475.3 878.5,466.1 885.5,466.1 891.5,459.3 897.5,466.5 904.5,479.4 910.5,479.4 917.5,478.6 923.5,484.8 930.5,485.2 936.5,463.4 943.5,462.8 949.5,458.6 956.5,457.2 962.5,448.9 969.5,447.4 975.5,452.4 982.5,462.0 988.5,450.9 995.5,448.2 1001.5,443.7 1008.5,447.8 1014.5,458.6 1021.5,462.8 1027.5,457.2 1034.5,464.0 1040.5,458.6 1047.5,455.1 1053.5,457.2 1060.5,457.2 1066.5,475.3 1073.5,511.2 1079.5,515.4" fill="none" stroke="#7e57c2" stroke-width="1.3" stroke-linejoin="round" stroke-linecap="round"/>
</g>
<path d="M1166,180 H1235 Q1237,180 1237,182 V198 Q1237,200 1235,200 H1166 Z" fill="#f23645"/>
<path d="M1166,377 H1243 Q1245,377 1245,379 V396 Q1245,398 1243,398 H1166 Z" fill="#2196f3"/>
<path d="M1166,506 H1218 Q1220,506 1220,508 V525 Q1220,527 1218,527 H1166 Z" fill="#7e57c2"/>
<text x="23.58" y="37.80" text-rendering="geometricPrecision" font-size="15.5" fill="#1f2330" textLength="119.58" lengthAdjust="spacingAndGlyphs">EUR/USD Spot, 4h</text>
<text x="152.80" y="37.80" text-rendering="geometricPrecision" font-size="15.5" fill="#1f2330" textLength="9.80" lengthAdjust="spacingAndGlyphs">O</text>
<text x="164.00" y="37.80" text-rendering="geometricPrecision" font-size="15.5" fill="#f23645" textLength="51.16" lengthAdjust="spacingAndGlyphs">1.03775</text>
<text x="225.24" y="37.80" text-rendering="geometricPrecision" font-size="15.5" fill="#1f2330" textLength="9.82" lengthAdjust="spacingAndGlyphs">H</text>
<text x="235.78" y="37.80" text-rendering="geometricPrecision" font-size="15.5" fill="#f23645" textLength="50.60" lengthAdjust="spacingAndGlyphs">1.03805</text>
<text x="296.80" y="37.80" text-rendering="geometricPrecision" font-size="15.5" fill="#1f2330" textLength="6.46" lengthAdjust="spacingAndGlyphs">L</text>
<text x="304.78" y="37.80" text-rendering="geometricPrecision" font-size="15.5" fill="#f23645" textLength="50.70" lengthAdjust="spacingAndGlyphs">1.03440</text>
<text x="366.48" y="37.80" text-rendering="geometricPrecision" font-size="15.5" fill="#1f2330" textLength="7.90" lengthAdjust="spacingAndGlyphs">C</text>
<text x="376.24" y="37.80" text-rendering="geometricPrecision" font-size="15.5" fill="#f23645" textLength="49.80" lengthAdjust="spacingAndGlyphs">1.03569</text>
<text x="436.90" y="37.80" text-rendering="geometricPrecision" font-size="15.5" fill="#f23645" textLength="121.16" lengthAdjust="spacingAndGlyphs">−0.00206 (−0.20%)</text>
<text x="23.36" y="58.50" text-rendering="geometricPrecision" font-size="15.5" fill="#1f2330" textLength="112.36" lengthAdjust="spacingAndGlyphs">MA (20, close, 0)</text>
<text x="23.36" y="79.65" text-rendering="geometricPrecision" font-size="15.5" fill="#1f2330" textLength="120.36" lengthAdjust="spacingAndGlyphs">MA (100, close, 0)</text>
<text x="23.36" y="100.80" text-rendering="geometricPrecision" font-size="15.5" fill="#1f2330" textLength="120.36" lengthAdjust="spacingAndGlyphs">MA (200, close, 0)</text>
<text x="22.68" y="323.80" text-rendering="geometricPrecision" font-size="15.5" fill="#1f2330" textLength="106.48" lengthAdjust="spacingAndGlyphs">Mom (10, close)</text>
<text x="138.90" y="323.80" text-rendering="geometricPrecision" font-size="15.5" fill="#2196f3" textLength="59.80" lengthAdjust="spacingAndGlyphs">−0.01408</text>
<text x="23.12" y="423.80" text-rendering="geometricPrecision" font-size="15.5" fill="#1f2330" textLength="50.26" lengthAdjust="spacingAndGlyphs">RSI (14)</text>
<text x="84.00" y="423.80" text-rendering="geometricPrecision" font-size="15.5" fill="#7e57c2" textLength="35.48" lengthAdjust="spacingAndGlyphs">19.48</text>
<text x="1175.78" y="27.90" text-rendering="geometricPrecision" font-size="15.5" fill="#1f2330" textLength="53.60" lengthAdjust="spacingAndGlyphs">1.07000</text>
<text x="1175.78" y="76.90" text-rendering="geometricPrecision" font-size="15.5" fill="#1f2330" textLength="53.60" lengthAdjust="spacingAndGlyphs">1.06000</text>
<text x="1175.78" y="125.90" text-rendering="geometricPrecision" font-size="15.5" fill="#1f2330" textLength="53.60" lengthAdjust="spacingAndGlyphs">1.05000</text>
<text x="1175.78" y="174.90" text-rendering="geometricPrecision" font-size="15.5" fill="#1f2330" textLength="53.60" lengthAdjust="spacingAndGlyphs">1.04000</text>
<text x="1175.78" y="223.90" text-rendering="geometricPrecision" font-size="15.5" fill="#1f2330" textLength="53.60" lengthAdjust="spacingAndGlyphs">1.03000</text>
<text x="1175.78" y="271.90" text-rendering="geometricPrecision" font-size="15.5" fill="#1f2330" textLength="53.60" lengthAdjust="spacingAndGlyphs">1.02000</text>
<text x="1177.12" y="195.70" text-rendering="geometricPrecision" font-size="15.5" fill="#fff" textLength="52.14" lengthAdjust="spacingAndGlyphs">1.03569</text>
<text x="1175.92" y="352.90" text-rendering="geometricPrecision" font-size="15.5" fill="#1f2330" textLength="53.24" lengthAdjust="spacingAndGlyphs">0.00000</text>
<text x="1175.90" y="392.90" text-rendering="geometricPrecision" font-size="15.5" fill="#fff" textLength="61.70" lengthAdjust="spacingAndGlyphs">−0.01408</text>
<text x="1175.92" y="438.40" text-rendering="geometricPrecision" font-size="15.5" fill="#1f2330" textLength="37.34" lengthAdjust="spacingAndGlyphs">60.00</text>
<text x="1175.92" y="479.40" text-rendering="geometricPrecision" font-size="15.5" fill="#1f2330" textLength="37.34" lengthAdjust="spacingAndGlyphs">40.00</text>
<text x="1176.00" y="521.90" text-rendering="geometricPrecision" font-size="15.5" fill="#fff" textLength="37.26" lengthAdjust="spacingAndGlyphs">19.48</text>
<text x="111.00" y="549.80" text-rendering="geometricPrecision" font-size="15.5" fill="#1f2330" textLength="15.60" lengthAdjust="spacingAndGlyphs">15</text>
<text x="234.24" y="549.80" text-rendering="geometricPrecision" font-size="15.5" fill="#1f2330" textLength="16.36" lengthAdjust="spacingAndGlyphs">20</text>
<text x="351.02" y="549.80" text-rendering="geometricPrecision" font-size="15.5" fill="#1f2330" textLength="16.48" lengthAdjust="spacingAndGlyphs">24</text>
<text x="547.24" y="549.80" text-rendering="geometricPrecision" font-size="15.5" fill="#1f2330" textLength="25.24" lengthAdjust="spacingAndGlyphs" font-weight="bold">Dec</text>
<text x="679.24" y="549.80" text-rendering="geometricPrecision" font-size="15.5" fill="#1f2330" textLength="7.70" lengthAdjust="spacingAndGlyphs">5</text>
<text x="798.90" y="549.80" text-rendering="geometricPrecision" font-size="15.5" fill="#1f2330" textLength="15.14" lengthAdjust="spacingAndGlyphs">10</text>
<text x="916.02" y="549.80" text-rendering="geometricPrecision" font-size="15.5" fill="#1f2330" textLength="14.36" lengthAdjust="spacingAndGlyphs">13</text>
<text x="1039.02" y="549.80" text-rendering="geometricPrecision" font-size="15.5" fill="#1f2330" textLength="14.68" lengthAdjust="spacingAndGlyphs">18</text>
<text x="42.70" y="589.80" text-rendering="geometricPrecision" font-size="15.5" fill="#1f2330" textLength="86.00" lengthAdjust="spacingAndGlyphs">TradingView</text>
<clipPath id="ct"><rect x="14" y="527" width="1151" height="34"/></clipPath>
<text x="1154.4" y="549.8" text-rendering="geometricPrecision" font-size="15.5" fill="#1f2330" textLength="8.1" lengthAdjust="spacingAndGlyphs">2</text><path d="M1164.4,542.8 L1166.2,541" stroke="#1f2330" stroke-width="1" stroke-opacity="0.8"/>
<path d="M13,578 H22.7 V589.8 H18 V582.3 H13 Z" fill="#131722"/>
<circle cx="26.9" cy="580.4" r="2.6" fill="#131722"/>
<path d="M32.1,578 H37.2 L32.9,589.8 H27 Z" fill="#131722"/>
</svg></body></html>
